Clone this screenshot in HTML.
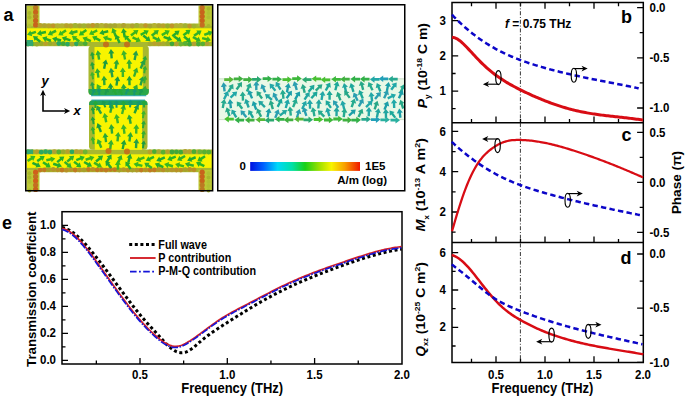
<!DOCTYPE html>
<html><head><meta charset="utf-8"><style>
html,body{margin:0;padding:0;background:#fff;}
svg{display:block;}
</style></head><body>
<svg width="685" height="399" viewBox="0 0 685 399">
<rect width="685" height="399" fill="#fff"/>
<g filter="url(#blurA)">
<rect x="26.5" y="23.5" width="185.50" height="22.70" fill="#a8b82e" rx="0" />
<rect x="26.5" y="149.5" width="185.50" height="22.70" fill="#a8b82e" rx="0" />
<rect x="88.5" y="45.5" width="60.30" height="49.80" fill="#a8b82e" rx="3.5" />
<rect x="89.0" y="100.3" width="58.50" height="49.50" fill="#a8b82e" rx="3.5" />
<rect x="26.5" y="5.5" width="13.00" height="20.50" fill="#bcc834" rx="0" />
<rect x="198.5" y="5.5" width="13.50" height="20.50" fill="#bcc834" rx="0" />
<circle cx="35.6" cy="7.7" r="2.6" fill="#bc7a24"/>
<circle cx="202.2" cy="7.7" r="2.6" fill="#c46e20"/>
<circle cx="29.5" cy="8.7" r="2.0" fill="#c0c838"/>
<circle cx="208.5" cy="8.7" r="2.0" fill="#a8b82c"/>
<circle cx="35.6" cy="12.0" r="2.6" fill="#c8641c"/>
<circle cx="202.2" cy="12.0" r="2.6" fill="#c8641c"/>
<circle cx="29.5" cy="13.0" r="2.0" fill="#a8b82c"/>
<circle cx="208.5" cy="13.0" r="2.0" fill="#b0c030"/>
<circle cx="35.6" cy="16.3" r="2.6" fill="#bc7a24"/>
<circle cx="202.2" cy="16.3" r="2.6" fill="#c8641c"/>
<circle cx="29.5" cy="17.3" r="2.0" fill="#a8b82c"/>
<circle cx="208.5" cy="17.3" r="2.0" fill="#b0c030"/>
<circle cx="35.6" cy="20.6" r="2.6" fill="#c8641c"/>
<circle cx="202.2" cy="20.6" r="2.6" fill="#c8641c"/>
<circle cx="29.5" cy="21.6" r="2.0" fill="#c0c838"/>
<circle cx="208.5" cy="21.6" r="2.0" fill="#c0c838"/>
<circle cx="35.6" cy="24.9" r="2.6" fill="#c8641c"/>
<circle cx="202.2" cy="24.9" r="2.6" fill="#c46e20"/>
<circle cx="29.5" cy="25.9" r="2.0" fill="#b0c030"/>
<circle cx="208.5" cy="25.9" r="2.0" fill="#a8b82c"/>
<rect x="26.5" y="170" width="13.00" height="20.00" fill="#bcc834" rx="0" />
<rect x="198.5" y="170" width="13.50" height="20.00" fill="#bcc834" rx="0" />
<circle cx="35.6" cy="172.2" r="2.6" fill="#d0601a"/>
<circle cx="202.2" cy="172.2" r="2.6" fill="#c8641c"/>
<circle cx="29.5" cy="173.2" r="2.0" fill="#a8b82c"/>
<circle cx="208.5" cy="173.2" r="2.0" fill="#b0c030"/>
<circle cx="35.6" cy="176.5" r="2.6" fill="#c46e20"/>
<circle cx="202.2" cy="176.5" r="2.6" fill="#c8641c"/>
<circle cx="29.5" cy="177.5" r="2.0" fill="#a8b82c"/>
<circle cx="208.5" cy="177.5" r="2.0" fill="#a8b82c"/>
<circle cx="35.6" cy="180.8" r="2.6" fill="#d0601a"/>
<circle cx="202.2" cy="180.8" r="2.6" fill="#c8641c"/>
<circle cx="29.5" cy="181.8" r="2.0" fill="#b0c030"/>
<circle cx="208.5" cy="181.8" r="2.0" fill="#b0c030"/>
<circle cx="35.6" cy="185.1" r="2.6" fill="#c46e20"/>
<circle cx="202.2" cy="185.1" r="2.6" fill="#bc7a24"/>
<circle cx="29.5" cy="186.1" r="2.0" fill="#c0c838"/>
<circle cx="208.5" cy="186.1" r="2.0" fill="#b0c030"/>
<circle cx="35.6" cy="189.4" r="2.6" fill="#c8641c"/>
<circle cx="202.2" cy="189.4" r="2.6" fill="#bc7a24"/>
<circle cx="29.5" cy="190.4" r="2.0" fill="#a8b82c"/>
<circle cx="208.5" cy="190.4" r="2.0" fill="#a8b82c"/>
<rect x="27.0" y="28.3" width="184.50" height="13.60" fill="#f8f400" rx="0" />
<rect x="27.0" y="154.3" width="184.50" height="13.60" fill="#f8f400" rx="0" />
<rect x="94.5" y="47" width="48.30" height="45.00" fill="#f8f400" rx="0" />
<rect x="94.8" y="104" width="47.20" height="45.80" fill="#f8f400" rx="0" />
<circle cx="40.0" cy="25.5" r="2.4" fill="#b8a02c"/>
<circle cx="44.4" cy="25.7" r="2.4" fill="#b0a030"/>
<circle cx="48.8" cy="25.9" r="2.4" fill="#b8a02c"/>
<circle cx="53.2" cy="25.8" r="2.4" fill="#c0942a"/>
<circle cx="57.6" cy="26.0" r="2.4" fill="#b4b032"/>
<circle cx="62.0" cy="25.9" r="2.4" fill="#b4b032"/>
<circle cx="66.4" cy="25.7" r="2.4" fill="#b8a02c"/>
<circle cx="70.8" cy="26.0" r="2.4" fill="#b8a02c"/>
<circle cx="75.2" cy="25.5" r="2.4" fill="#a0b030"/>
<circle cx="79.6" cy="25.8" r="2.4" fill="#a8a430"/>
<circle cx="84.0" cy="26.0" r="2.4" fill="#a0b030"/>
<circle cx="88.4" cy="25.9" r="2.4" fill="#b0a030"/>
<circle cx="92.8" cy="25.5" r="2.4" fill="#c0942a"/>
<circle cx="97.2" cy="25.5" r="2.4" fill="#a8a430"/>
<circle cx="101.6" cy="25.5" r="2.4" fill="#b4b032"/>
<circle cx="106.0" cy="25.7" r="2.4" fill="#b0a030"/>
<circle cx="110.4" cy="26.0" r="2.4" fill="#a8a430"/>
<circle cx="114.8" cy="25.7" r="2.4" fill="#a8a430"/>
<circle cx="119.2" cy="25.9" r="2.4" fill="#b4b032"/>
<circle cx="123.6" cy="25.5" r="2.4" fill="#b0a030"/>
<circle cx="128.0" cy="26.2" r="2.4" fill="#b4b032"/>
<circle cx="132.4" cy="26.0" r="2.4" fill="#b0a030"/>
<circle cx="136.8" cy="25.4" r="2.4" fill="#a0b030"/>
<circle cx="141.2" cy="25.9" r="2.4" fill="#b4b032"/>
<circle cx="145.6" cy="25.6" r="2.4" fill="#c0942a"/>
<circle cx="150.0" cy="26.1" r="2.4" fill="#a8a430"/>
<circle cx="154.4" cy="25.4" r="2.4" fill="#b4b032"/>
<circle cx="158.8" cy="25.7" r="2.4" fill="#b0a030"/>
<circle cx="163.2" cy="25.8" r="2.4" fill="#b8a02c"/>
<circle cx="167.6" cy="26.0" r="2.4" fill="#98ac2c"/>
<circle cx="172.0" cy="26.0" r="2.4" fill="#c0942a"/>
<circle cx="176.4" cy="25.7" r="2.4" fill="#b4b032"/>
<circle cx="180.8" cy="25.5" r="2.4" fill="#b4b032"/>
<circle cx="185.2" cy="25.7" r="2.4" fill="#a0b030"/>
<circle cx="189.6" cy="26.1" r="2.4" fill="#c0942a"/>
<circle cx="194.0" cy="26.1" r="2.4" fill="#a0b030"/>
<circle cx="28.0" cy="44.0" r="2.4" fill="#40a838"/>
<circle cx="32.4" cy="43.9" r="2.4" fill="#6cb430"/>
<circle cx="36.8" cy="44.2" r="2.4" fill="#98ac2c"/>
<circle cx="41.2" cy="43.5" r="2.4" fill="#98ac2c"/>
<circle cx="45.6" cy="43.6" r="2.4" fill="#b8a02c"/>
<circle cx="50.0" cy="43.4" r="2.4" fill="#98ac2c"/>
<circle cx="54.4" cy="43.6" r="2.4" fill="#a8aa2e"/>
<circle cx="58.8" cy="43.5" r="2.4" fill="#2aa860"/>
<circle cx="63.2" cy="43.7" r="2.4" fill="#40a838"/>
<circle cx="67.6" cy="44.2" r="2.4" fill="#2aa860"/>
<circle cx="72.0" cy="44.2" r="2.4" fill="#a8aa2e"/>
<circle cx="76.4" cy="43.8" r="2.4" fill="#2aa860"/>
<circle cx="80.8" cy="43.7" r="2.4" fill="#6cb430"/>
<circle cx="85.2" cy="43.7" r="2.4" fill="#4aac34"/>
<circle cx="150.0" cy="43.9" r="2.4" fill="#a8aa2e"/>
<circle cx="154.4" cy="43.6" r="2.4" fill="#b8a02c"/>
<circle cx="158.8" cy="43.8" r="2.4" fill="#b0a030"/>
<circle cx="163.2" cy="43.7" r="2.4" fill="#a8aa2e"/>
<circle cx="167.6" cy="43.5" r="2.4" fill="#98ac2c"/>
<circle cx="172.0" cy="43.8" r="2.4" fill="#40a838"/>
<circle cx="176.4" cy="43.9" r="2.4" fill="#b0a030"/>
<circle cx="180.8" cy="44.1" r="2.4" fill="#6cb430"/>
<circle cx="185.2" cy="43.5" r="2.4" fill="#58b030"/>
<circle cx="189.6" cy="44.2" r="2.4" fill="#40a838"/>
<circle cx="194.0" cy="43.8" r="2.4" fill="#b0a030"/>
<circle cx="198.4" cy="44.1" r="2.4" fill="#4aac34"/>
<circle cx="202.8" cy="43.8" r="2.4" fill="#58b030"/>
<circle cx="207.2" cy="43.5" r="2.4" fill="#b0a030"/>
<circle cx="28.0" cy="152.0" r="2.4" fill="#58b030"/>
<circle cx="32.4" cy="151.8" r="2.4" fill="#98ac2c"/>
<circle cx="36.8" cy="151.8" r="2.4" fill="#b8a02c"/>
<circle cx="41.2" cy="152.2" r="2.4" fill="#2aa860"/>
<circle cx="45.6" cy="151.7" r="2.4" fill="#2aa860"/>
<circle cx="50.0" cy="152.1" r="2.4" fill="#2aa860"/>
<circle cx="54.4" cy="151.6" r="2.4" fill="#b0a030"/>
<circle cx="58.8" cy="152.0" r="2.4" fill="#58b030"/>
<circle cx="63.2" cy="151.8" r="2.4" fill="#98ac2c"/>
<circle cx="67.6" cy="151.7" r="2.4" fill="#b8a02c"/>
<circle cx="72.0" cy="151.8" r="2.4" fill="#2aa860"/>
<circle cx="76.4" cy="151.7" r="2.4" fill="#b8a02c"/>
<circle cx="80.8" cy="151.9" r="2.4" fill="#b8a02c"/>
<circle cx="85.2" cy="152.0" r="2.4" fill="#6cb430"/>
<circle cx="150.0" cy="152.0" r="2.4" fill="#b8a02c"/>
<circle cx="154.4" cy="151.6" r="2.4" fill="#4aac34"/>
<circle cx="158.8" cy="151.7" r="2.4" fill="#a8aa2e"/>
<circle cx="163.2" cy="152.2" r="2.4" fill="#58b030"/>
<circle cx="167.6" cy="151.8" r="2.4" fill="#b8a02c"/>
<circle cx="172.0" cy="152.0" r="2.4" fill="#40a838"/>
<circle cx="176.4" cy="151.8" r="2.4" fill="#40a838"/>
<circle cx="180.8" cy="152.2" r="2.4" fill="#40a838"/>
<circle cx="185.2" cy="151.5" r="2.4" fill="#b0a030"/>
<circle cx="189.6" cy="151.6" r="2.4" fill="#b8a02c"/>
<circle cx="194.0" cy="151.7" r="2.4" fill="#4aac34"/>
<circle cx="198.4" cy="151.9" r="2.4" fill="#a8aa2e"/>
<circle cx="200.0" cy="151.8" r="2.4" fill="#6cb430"/>
<circle cx="204.4" cy="152.0" r="2.4" fill="#58b030"/>
<circle cx="208.8" cy="152.1" r="2.4" fill="#58b030"/>
<circle cx="40.0" cy="170.1" r="2.4" fill="#c07a24"/>
<circle cx="44.4" cy="169.8" r="2.4" fill="#c07a24"/>
<circle cx="48.8" cy="169.7" r="2.4" fill="#a8a02a"/>
<circle cx="53.2" cy="169.5" r="2.4" fill="#b4962a"/>
<circle cx="57.6" cy="169.8" r="2.4" fill="#b89028"/>
<circle cx="62.0" cy="170.0" r="2.4" fill="#c07a24"/>
<circle cx="66.4" cy="170.2" r="2.4" fill="#b89028"/>
<circle cx="70.8" cy="169.5" r="2.4" fill="#b4962a"/>
<circle cx="75.2" cy="170.0" r="2.4" fill="#c07a24"/>
<circle cx="79.6" cy="169.9" r="2.4" fill="#b4962a"/>
<circle cx="84.0" cy="169.9" r="2.4" fill="#a8a02a"/>
<circle cx="88.4" cy="169.5" r="2.4" fill="#c07a24"/>
<circle cx="92.8" cy="169.4" r="2.4" fill="#b89028"/>
<circle cx="97.2" cy="169.8" r="2.4" fill="#c07a24"/>
<circle cx="101.6" cy="169.7" r="2.4" fill="#c07a24"/>
<circle cx="106.0" cy="170.1" r="2.4" fill="#c07a24"/>
<circle cx="110.4" cy="169.4" r="2.4" fill="#c07a24"/>
<circle cx="114.8" cy="169.6" r="2.4" fill="#c07a24"/>
<circle cx="119.2" cy="170.0" r="2.4" fill="#a8a02a"/>
<circle cx="123.6" cy="169.6" r="2.4" fill="#b4962a"/>
<circle cx="128.0" cy="170.1" r="2.4" fill="#b89028"/>
<circle cx="132.4" cy="170.1" r="2.4" fill="#a8a02a"/>
<circle cx="136.8" cy="170.1" r="2.4" fill="#b4962a"/>
<circle cx="141.2" cy="170.1" r="2.4" fill="#c07a24"/>
<circle cx="145.6" cy="169.8" r="2.4" fill="#b89028"/>
<circle cx="150.0" cy="170.1" r="2.4" fill="#c07a24"/>
<circle cx="154.4" cy="169.9" r="2.4" fill="#c07a24"/>
<circle cx="158.8" cy="169.5" r="2.4" fill="#b4962a"/>
<circle cx="163.2" cy="169.9" r="2.4" fill="#b89028"/>
<circle cx="167.6" cy="169.8" r="2.4" fill="#a8a02a"/>
<circle cx="172.0" cy="169.9" r="2.4" fill="#b4962a"/>
<circle cx="176.4" cy="170.0" r="2.4" fill="#b89028"/>
<circle cx="180.8" cy="170.1" r="2.4" fill="#b89028"/>
<circle cx="185.2" cy="169.6" r="2.4" fill="#a8a02a"/>
<circle cx="189.6" cy="169.4" r="2.4" fill="#b89028"/>
<circle cx="194.0" cy="169.8" r="2.4" fill="#b89028"/>
<rect x="26.5" y="40" width="6.50" height="6.00" fill="#30a870" rx="0" />
<rect x="26.5" y="149.5" width="6.50" height="4.50" fill="#30a870" rx="0" />
<path d="M27.1,34.7 L30.4,30.5 L30.9,32.2 L35.5,30.7 L36.3,33.0 L31.7,34.5 L32.3,36.2Z" fill="#30b02c"/>
<path d="M36.9,33.9 L40.6,30.0 L41.0,31.7 L45.7,30.7 L46.2,33.2 L41.5,34.2 L41.9,35.9Z" fill="#26ac2a"/>
<path d="M47.8,34.9 L50.4,30.3 L51.2,31.8 L55.5,29.6 L56.6,31.9 L52.3,34.0 L53.1,35.6Z" fill="#30b02c"/>
<path d="M58.3,35.3 L60.4,30.4 L61.3,31.9 L65.3,29.3 L66.7,31.4 L62.7,34.0 L63.6,35.4Z" fill="#38b820"/>
<path d="M68.6,33.6 L72.1,29.6 L72.5,31.3 L77.2,30.1 L77.8,32.5 L73.2,33.7 L73.6,35.4Z" fill="#30b02c"/>
<path d="M78.9,35.5 L80.7,30.4 L81.7,31.8 L85.6,29.0 L87.1,31.0 L83.2,33.8 L84.3,35.2Z" fill="#2cb424"/>
<path d="M89.0,34.6 L91.5,29.9 L92.4,31.4 L96.6,29.2 L97.8,31.4 L93.5,33.6 L94.3,35.2Z" fill="#38b820"/>
<path d="M99.3,33.5 L102.8,29.5 L103.3,31.2 L107.9,30.0 L108.5,32.5 L103.9,33.6 L104.3,35.3Z" fill="#22a830"/>
<path d="M112.4,28.1 L116.9,31.0 L115.3,31.7 L117.1,36.1 L114.8,37.1 L113.0,32.7 L111.4,33.3Z" fill="#30b02c"/>
<path d="M123.2,28.2 L126.9,32.1 L125.2,32.4 L125.9,37.1 L123.5,37.5 L122.7,32.8 L121.0,33.1Z" fill="#22a830"/>
<path d="M138.4,30.0 L136.6,35.1 L135.6,33.6 L131.7,36.4 L130.2,34.4 L134.1,31.6 L133.1,30.2Z" fill="#3cb41e"/>
<path d="M148.8,30.5 L146.3,35.2 L145.5,33.6 L141.3,35.9 L140.1,33.7 L144.3,31.4 L143.5,29.9Z" fill="#2cb424"/>
<path d="M158.8,29.9 L157.3,35.1 L156.2,33.7 L152.5,36.8 L150.9,34.8 L154.6,31.8 L153.5,30.4Z" fill="#30b02c"/>
<path d="M169.8,30.6 L167.4,35.4 L166.6,33.8 L162.4,36.2 L161.2,34.0 L165.4,31.6 L164.5,30.1Z" fill="#38b820"/>
<path d="M179.6,30.5 L178.0,35.6 L176.9,34.2 L173.2,37.2 L171.6,35.2 L175.4,32.3 L174.3,30.9Z" fill="#26ac2a"/>
<path d="M190.6,29.7 L188.9,34.8 L187.9,33.4 L184.1,36.3 L182.6,34.3 L186.4,31.4 L185.3,30.0Z" fill="#2cb424"/>
<path d="M201.6,30.5 L199.7,35.5 L198.7,34.0 L194.8,36.8 L193.3,34.7 L197.3,32.0 L196.3,30.5Z" fill="#30b02c"/>
<path d="M212.9,31.7 L209.8,36.1 L209.2,34.4 L204.7,36.1 L203.8,33.8 L208.3,32.1 L207.7,30.5Z" fill="#30b02c"/>
<path d="M33.0,36.1 L38.3,36.4 L37.2,37.8 L41.0,40.7 L39.5,42.7 L35.7,39.8 L34.6,41.1Z" fill="#22a830"/>
<path d="M42.2,37.6 L47.3,36.3 L46.8,37.9 L51.3,39.5 L50.4,41.9 L45.9,40.3 L45.4,41.9Z" fill="#26ac2a"/>
<path d="M52.1,38.2 L57.1,36.4 L56.7,38.1 L61.4,39.2 L60.8,41.6 L56.1,40.5 L55.7,42.2Z" fill="#22a830"/>
<path d="M61.8,37.4 L66.9,36.0 L66.4,37.7 L70.9,39.2 L70.1,41.6 L65.6,40.1 L65.0,41.7Z" fill="#26ac2a"/>
<path d="M71.9,36.0 L77.3,36.2 L76.2,37.6 L80.1,40.5 L78.6,42.5 L74.8,39.6 L73.7,41.1Z" fill="#38b820"/>
<path d="M82.4,37.5 L87.7,36.5 L87.0,38.1 L91.4,40.0 L90.4,42.3 L86.0,40.4 L85.3,42.0Z" fill="#3cb41e"/>
<path d="M92.1,36.4 L97.4,35.7 L96.6,37.3 L100.9,39.4 L99.8,41.7 L95.5,39.5 L94.7,41.1Z" fill="#2cb424"/>
<path d="M102.9,36.9 L108.0,35.5 L107.4,37.2 L112.0,38.7 L111.1,41.1 L106.6,39.5 L106.1,41.2Z" fill="#38b820"/>
<path d="M115.5,34.6 L120.2,37.2 L118.6,38.0 L120.8,42.3 L118.6,43.4 L116.4,39.1 L114.8,39.9Z" fill="#22a830"/>
<path d="M124.1,35.2 L129.3,36.3 L128.1,37.5 L131.4,40.9 L129.6,42.7 L126.3,39.2 L125.0,40.5Z" fill="#2cb424"/>
<path d="M140.9,41.4 L135.6,42.2 L136.3,40.6 L132.0,38.5 L133.1,36.2 L137.4,38.3 L138.2,36.8Z" fill="#3cb41e"/>
<path d="M150.5,41.2 L145.2,40.8 L146.3,39.4 L142.5,36.5 L144.0,34.5 L147.8,37.5 L148.9,36.1Z" fill="#22a830"/>
<path d="M161.1,41.2 L155.8,42.0 L156.6,40.4 L152.3,38.3 L153.4,36.1 L157.7,38.2 L158.4,36.6Z" fill="#30b02c"/>
<path d="M172.2,40.1 L167.1,41.3 L167.7,39.7 L163.2,38.0 L164.0,35.7 L168.5,37.3 L169.1,35.7Z" fill="#26ac2a"/>
<path d="M181.6,41.7 L176.3,41.6 L177.3,40.2 L173.4,37.4 L174.8,35.4 L178.7,38.1 L179.8,36.7Z" fill="#22a830"/>
<path d="M191.0,42.3 L185.7,41.8 L186.8,40.5 L183.2,37.4 L184.8,35.5 L188.4,38.5 L189.6,37.2Z" fill="#26ac2a"/>
<path d="M200.9,41.5 L195.6,42.0 L196.5,40.4 L192.3,38.1 L193.5,35.9 L197.7,38.3 L198.6,36.7Z" fill="#30b02c"/>
<path d="M211.0,40.3 L206.0,42.2 L206.5,40.5 L201.8,39.3 L202.4,36.9 L207.1,38.0 L207.5,36.3Z" fill="#3cb41e"/>
<path d="M35.4,156.1 L33.2,160.9 L32.3,159.5 L28.3,162.0 L26.9,159.9 L31.0,157.3 L30.1,155.8Z" fill="#38b820"/>
<path d="M44.7,155.9 L42.8,160.9 L41.8,159.4 L37.9,162.2 L36.5,160.1 L40.4,157.4 L39.4,156.0Z" fill="#2cb424"/>
<path d="M55.3,158.4 L51.6,162.3 L51.2,160.5 L46.6,161.6 L46.0,159.1 L50.7,158.1 L50.3,156.4Z" fill="#3cb41e"/>
<path d="M64.3,156.4 L62.7,161.5 L61.6,160.1 L57.9,163.1 L56.4,161.2 L60.1,158.2 L59.0,156.8Z" fill="#26ac2a"/>
<path d="M74.2,155.7 L72.8,160.8 L71.6,159.5 L68.0,162.6 L66.4,160.7 L70.0,157.6 L68.9,156.2Z" fill="#30b02c"/>
<path d="M84.8,156.8 L81.8,161.2 L81.2,159.6 L76.7,161.3 L75.8,159.0 L80.2,157.3 L79.6,155.6Z" fill="#2cb424"/>
<path d="M94.5,157.1 L91.1,161.2 L90.6,159.5 L86.0,160.9 L85.3,158.5 L89.9,157.1 L89.4,155.4Z" fill="#3cb41e"/>
<path d="M103.1,155.6 L101.6,160.8 L100.5,159.4 L96.8,162.5 L95.2,160.5 L98.9,157.5 L97.8,156.1Z" fill="#26ac2a"/>
<path d="M111.5,154.5 L111.7,159.8 L110.2,158.9 L107.7,162.9 L105.6,161.6 L108.1,157.6 L106.6,156.6Z" fill="#22a830"/>
<path d="M121.6,154.9 L122.5,160.1 L120.9,159.4 L119.0,163.8 L116.7,162.7 L118.7,158.4 L117.1,157.7Z" fill="#30b02c"/>
<path d="M130.4,153.8 L132.3,158.8 L130.6,158.4 L129.5,163.0 L127.1,162.4 L128.2,157.8 L126.5,157.4Z" fill="#22a830"/>
<path d="M135.9,160.8 L138.9,156.4 L139.6,158.0 L144.0,156.2 L144.9,158.5 L140.5,160.3 L141.2,161.9Z" fill="#3cb41e"/>
<path d="M145.7,160.8 L148.4,156.2 L149.1,157.8 L153.5,155.7 L154.5,158.0 L150.2,160.0 L150.9,161.6Z" fill="#2cb424"/>
<path d="M156.3,161.1 L159.2,156.6 L159.9,158.2 L164.3,156.3 L165.3,158.6 L160.9,160.5 L161.6,162.1Z" fill="#22a830"/>
<path d="M167.2,160.0 L170.2,155.6 L170.8,157.2 L175.3,155.4 L176.2,157.8 L171.8,159.5 L172.4,161.2Z" fill="#2cb424"/>
<path d="M177.1,160.6 L179.4,155.8 L180.3,157.3 L184.5,155.0 L185.7,157.1 L181.5,159.5 L182.4,161.0Z" fill="#30b02c"/>
<path d="M187.1,160.7 L190.1,156.2 L190.7,157.9 L195.2,156.1 L196.1,158.4 L191.7,160.2 L192.3,161.8Z" fill="#22a830"/>
<path d="M197.3,161.2 L199.4,156.3 L200.3,157.8 L204.4,155.2 L205.7,157.3 L201.7,159.9 L202.6,161.4Z" fill="#2cb424"/>
<path d="M40.7,166.8 L35.5,167.6 L36.2,166.0 L31.9,164.0 L33.0,161.7 L37.3,163.8 L38.1,162.2Z" fill="#22a830"/>
<path d="M50.7,167.3 L45.4,167.4 L46.3,165.9 L42.3,163.3 L43.7,161.2 L47.7,163.8 L48.6,162.3Z" fill="#2cb424"/>
<path d="M62.0,166.5 L56.8,168.0 L57.4,166.4 L52.8,164.9 L53.6,162.5 L58.2,164.0 L58.7,162.3Z" fill="#26ac2a"/>
<path d="M71.7,167.7 L66.4,167.2 L67.5,165.9 L63.8,162.8 L65.4,160.9 L69.1,163.9 L70.2,162.6Z" fill="#30b02c"/>
<path d="M81.3,167.3 L76.0,167.0 L77.1,165.6 L73.3,162.7 L74.8,160.8 L78.6,163.7 L79.7,162.3Z" fill="#2cb424"/>
<path d="M92.1,166.6 L86.8,167.0 L87.6,165.5 L83.5,163.1 L84.7,160.9 L88.9,163.3 L89.7,161.8Z" fill="#26ac2a"/>
<path d="M102.0,167.3 L96.7,167.7 L97.6,166.2 L93.4,163.8 L94.7,161.6 L98.8,164.0 L99.7,162.5Z" fill="#3cb41e"/>
<path d="M105.4,161.0 L110.5,162.4 L109.2,163.6 L112.3,167.2 L110.3,168.8 L107.3,165.2 L105.9,166.3Z" fill="#22a830"/>
<path d="M117.8,160.5 L120.9,164.8 L119.1,164.8 L119.2,169.6 L116.7,169.7 L116.6,164.9 L114.9,164.9Z" fill="#38b820"/>
<path d="M125.4,161.5 L130.4,163.4 L128.9,164.4 L131.7,168.3 L129.6,169.8 L126.9,165.8 L125.5,166.8Z" fill="#26ac2a"/>
<path d="M133.5,163.7 L138.5,161.8 L138.1,163.5 L142.7,164.7 L142.1,167.1 L137.5,165.9 L137.0,167.6Z" fill="#38b820"/>
<path d="M144.3,162.7 L149.6,162.8 L148.6,164.2 L152.6,167.0 L151.1,169.0 L147.2,166.3 L146.2,167.7Z" fill="#30b02c"/>
<path d="M154.8,163.5 L160.0,162.5 L159.4,164.1 L163.8,165.9 L162.8,168.2 L158.4,166.4 L157.7,168.0Z" fill="#26ac2a"/>
<path d="M164.1,164.0 L169.1,162.1 L168.7,163.8 L173.3,165.0 L172.7,167.4 L168.1,166.3 L167.7,168.0Z" fill="#38b820"/>
<path d="M175.1,164.0 L180.1,162.2 L179.6,163.9 L184.3,165.2 L183.6,167.6 L179.0,166.3 L178.5,168.0Z" fill="#3cb41e"/>
<path d="M184.9,163.5 L189.9,161.7 L189.5,163.4 L194.1,164.6 L193.5,167.0 L188.9,165.8 L188.4,167.5Z" fill="#30b02c"/>
<path d="M196.0,162.3 L201.3,161.4 L200.6,163.0 L204.9,165.1 L203.8,167.3 L199.5,165.3 L198.7,166.9Z" fill="#2cb424"/>
<path d="M97.6,50.2 L101.3,54.2 L99.5,54.5 L100.3,59.4 L97.9,59.7 L97.1,54.9 L95.4,55.2Z" fill="#34ae30"/>
<path d="M110.9,49.0 L114.3,53.2 L112.5,53.4 L112.9,58.3 L110.5,58.5 L110.1,53.6 L108.3,53.8Z" fill="#1f9c40"/>
<path d="M123.3,50.2 L127.1,54.1 L125.3,54.4 L126.2,59.3 L123.9,59.7 L123.0,54.9 L121.2,55.2Z" fill="#3cb42c"/>
<path d="M136.4,50.6 L138.5,55.7 L136.7,55.3 L135.8,60.2 L133.4,59.7 L134.4,54.9 L132.6,54.6Z" fill="#26a046"/>
<path d="M106.1,59.4 L108.1,64.5 L106.3,64.1 L105.3,69.0 L102.9,68.5 L104.0,63.6 L102.2,63.2Z" fill="#1f9c40"/>
<path d="M117.1,59.5 L119.3,64.5 L117.6,64.2 L116.8,69.1 L114.4,68.7 L115.2,63.8 L113.4,63.5Z" fill="#2aa838"/>
<path d="M129.1,59.2 L132.3,63.7 L130.5,63.7 L130.6,68.6 L128.2,68.7 L128.1,63.8 L126.3,63.8Z" fill="#34ae30"/>
<path d="M144.4,59.8 L145.4,65.2 L143.7,64.5 L141.8,69.0 L139.6,68.1 L141.5,63.5 L139.9,62.8Z" fill="#26a046"/>
<path d="M97.1,68.2 L100.7,72.3 L98.9,72.5 L99.6,77.4 L97.3,77.7 L96.6,72.9 L94.8,73.1Z" fill="#34ae30"/>
<path d="M110.8,67.8 L114.5,71.8 L112.8,72.1 L113.6,76.9 L111.3,77.4 L110.4,72.5 L108.6,72.8Z" fill="#26a046"/>
<path d="M122.7,67.4 L125.8,71.9 L124.0,72.0 L124.1,76.9 L121.7,76.9 L121.6,72.0 L119.8,72.0Z" fill="#3cb42c"/>
<path d="M137.1,67.6 L138.4,72.9 L136.7,72.3 L135.1,77.0 L132.9,76.2 L134.5,71.5 L132.8,70.9Z" fill="#34ae30"/>
<path d="M103.9,75.7 L107.2,80.1 L105.4,80.2 L105.6,85.1 L103.2,85.3 L103.0,80.3 L101.2,80.4Z" fill="#2aa838"/>
<path d="M117.9,76.2 L120.2,81.2 L118.4,80.9 L117.6,85.8 L115.3,85.4 L116.0,80.6 L114.2,80.3Z" fill="#1f9c40"/>
<path d="M129.3,75.8 L132.4,80.2 L130.6,80.3 L130.7,85.2 L128.3,85.3 L128.2,80.3 L126.4,80.4Z" fill="#22a23a"/>
<path d="M143.1,76.2 L144.7,81.4 L143.0,80.9 L141.6,85.7 L139.3,85.0 L140.7,80.3 L138.9,79.8Z" fill="#26a046"/>
<path d="M96.9,84.1 L101.7,86.7 L100.1,87.6 L102.4,91.9 L100.3,93.1 L97.9,88.7 L96.4,89.6Z" fill="#3cb42c"/>
<path d="M110.4,83.1 L113.6,87.4 L111.9,87.5 L112.2,92.5 L109.8,92.6 L109.5,87.7 L107.7,87.8Z" fill="#1f9c40"/>
<path d="M123.4,83.8 L126.7,88.1 L124.9,88.3 L125.2,93.2 L122.8,93.4 L122.5,88.4 L120.7,88.6Z" fill="#2aa838"/>
<path d="M137.3,84.5 L138.0,89.9 L136.4,89.1 L134.2,93.5 L132.1,92.5 L134.2,88.0 L132.6,87.3Z" fill="#34ae30"/>
<path d="M91.9,51.8 L94.9,55.0 L93.5,55.2 L94.0,59.1 L92.1,59.4 L91.5,55.5 L90.0,55.7Z" fill="#22a23a"/>
<path d="M145.4,55.8 L147.3,59.7 L145.8,59.5 L145.2,63.4 L143.3,63.1 L143.8,59.2 L142.4,59.0Z" fill="#2aa838"/>
<path d="M91.9,61.8 L94.9,65.0 L93.5,65.2 L94.0,69.1 L92.1,69.4 L91.5,65.5 L90.0,65.7Z" fill="#22a23a"/>
<path d="M145.4,65.8 L147.3,69.7 L145.8,69.5 L145.2,73.4 L143.3,73.1 L143.8,69.2 L142.4,69.0Z" fill="#34ae30"/>
<path d="M91.9,71.8 L94.9,75.0 L93.5,75.2 L94.0,79.1 L92.1,79.4 L91.5,75.5 L90.0,75.7Z" fill="#3cb42c"/>
<path d="M145.4,75.8 L147.3,79.7 L145.8,79.5 L145.2,83.4 L143.3,83.1 L143.8,79.2 L142.4,79.0Z" fill="#34ae30"/>
<path d="M91.9,81.8 L94.9,85.0 L93.5,85.2 L94.0,89.1 L92.1,89.4 L91.5,85.5 L90.0,85.7Z" fill="#26a046"/>
<path d="M145.4,85.8 L147.3,89.7 L145.8,89.5 L145.2,93.4 L143.3,93.1 L143.8,89.2 L142.4,89.0Z" fill="#34ae30"/>
<path d="M96.5,105.3 L101.4,107.9 L99.8,108.7 L102.2,113.1 L100.1,114.2 L97.7,109.9 L96.1,110.8Z" fill="#26a046"/>
<path d="M112.5,103.6 L114.3,108.7 L112.6,108.3 L111.4,113.1 L109.1,112.5 L110.2,107.7 L108.5,107.3Z" fill="#2aa838"/>
<path d="M124.3,104.7 L126.1,109.8 L124.4,109.4 L123.2,114.2 L120.9,113.7 L122.1,108.9 L120.3,108.4Z" fill="#3cb42c"/>
<path d="M138.1,104.5 L139.1,109.8 L137.5,109.2 L135.6,113.7 L133.4,112.8 L135.2,108.3 L133.6,107.6Z" fill="#22a23a"/>
<path d="M104.4,112.9 L108.2,116.8 L106.5,117.2 L107.4,122.0 L105.0,122.5 L104.1,117.6 L102.3,117.9Z" fill="#3cb42c"/>
<path d="M116.1,113.9 L119.9,117.8 L118.2,118.1 L119.1,123.0 L116.7,123.4 L115.8,118.6 L114.0,118.9Z" fill="#3cb42c"/>
<path d="M128.8,114.4 L132.7,118.2 L130.9,118.6 L131.9,123.4 L129.5,123.9 L128.5,119.1 L126.8,119.4Z" fill="#2aa838"/>
<path d="M97.4,123.1 L101.9,126.2 L100.2,126.9 L102.1,131.5 L99.8,132.4 L98.0,127.8 L96.3,128.5Z" fill="#1f9c40"/>
<path d="M111.1,124.1 L114.6,128.3 L112.8,128.5 L113.3,133.4 L110.9,133.7 L110.4,128.8 L108.6,129.0Z" fill="#2aa838"/>
<path d="M123.2,124.3 L126.8,128.5 L125.0,128.7 L125.7,133.6 L123.3,133.9 L122.7,129.0 L120.9,129.2Z" fill="#3cb42c"/>
<path d="M136.5,124.2 L139.3,128.8 L137.5,128.8 L137.4,133.7 L135.0,133.6 L135.1,128.7 L133.3,128.6Z" fill="#3cb42c"/>
<path d="M104.9,132.8 L108.4,136.9 L106.6,137.1 L107.2,142.1 L104.9,142.3 L104.3,137.4 L102.5,137.7Z" fill="#2aa838"/>
<path d="M118.4,131.9 L120.9,136.7 L119.2,136.5 L118.7,141.4 L116.3,141.2 L116.8,136.3 L115.0,136.1Z" fill="#34ae30"/>
<path d="M130.8,132.1 L133.1,137.1 L131.3,136.8 L130.6,141.7 L128.2,141.3 L128.9,136.4 L127.1,136.2Z" fill="#2aa838"/>
<path d="M97.6,138.9 L102.1,142.0 L100.5,142.7 L102.4,147.2 L100.2,148.2 L98.2,143.6 L96.6,144.3Z" fill="#34ae30"/>
<path d="M111.4,139.8 L113.8,144.7 L112.0,144.5 L111.4,149.4 L109.0,149.1 L109.6,144.2 L107.8,143.9Z" fill="#34ae30"/>
<path d="M124.5,139.8 L126.6,144.9 L124.8,144.5 L123.8,149.3 L121.5,148.9 L122.5,144.0 L120.7,143.7Z" fill="#22a23a"/>
<path d="M136.7,138.6 L139.3,143.4 L137.5,143.2 L137.2,148.2 L134.8,148.0 L135.1,143.1 L133.3,142.9Z" fill="#26a046"/>
<path d="M92.4,106.6 L95.4,109.8 L94.0,110.0 L94.5,113.9 L92.6,114.2 L92.0,110.3 L90.5,110.5Z" fill="#22a23a"/>
<path d="M144.1,110.6 L146.0,114.5 L144.5,114.3 L143.9,118.2 L142.0,117.9 L142.5,114.0 L141.1,113.8Z" fill="#3cb42c"/>
<path d="M92.4,116.6 L95.4,119.8 L94.0,120.0 L94.5,123.9 L92.6,124.2 L92.0,120.3 L90.5,120.5Z" fill="#22a23a"/>
<path d="M144.1,120.6 L146.0,124.5 L144.5,124.3 L143.9,128.2 L142.0,127.9 L142.5,124.0 L141.1,123.8Z" fill="#2aa838"/>
<path d="M92.4,126.6 L95.4,129.8 L94.0,130.0 L94.5,133.9 L92.6,134.2 L92.0,130.3 L90.5,130.5Z" fill="#34ae30"/>
<path d="M144.1,130.6 L146.0,134.5 L144.5,134.3 L143.9,138.2 L142.0,137.9 L142.5,134.0 L141.1,133.8Z" fill="#34ae30"/>
<path d="M92.4,136.6 L95.4,139.8 L94.0,140.0 L94.5,143.9 L92.6,144.2 L92.0,140.3 L90.5,140.5Z" fill="#3cb42c"/>
<path d="M144.1,140.6 L146.0,144.5 L144.5,144.3 L143.9,148.2 L142.0,147.9 L142.5,144.0 L141.1,143.8Z" fill="#1f9c40"/>
<path d="M88.5,89 V91.5 Q88.5,95.3 93,95.3 H144.3 Q148.8,95.3 148.8,91.5 V89 Z" fill="#2aa84a"/>
<path d="M89,105 V104.5 Q89,100.3 93.5,100.3 H143 Q147.5,100.3 147.5,104.5 V105 Z" fill="#22a45a"/>
<path d="M94.9,88.8 L95.9,93.0 L94.4,92.3 L92.9,95.6 L91.1,94.8 L92.6,91.5 L91.2,90.8Z" fill="#189870"/>
<path d="M95.5,100.4 L98.1,104.1 L96.4,104.0 L96.3,107.9 L94.3,107.9 L94.4,104.0 L92.7,103.9Z" fill="#26a838"/>
<path d="M98.6,88.2 L101.6,91.2 L100.0,91.4 L100.5,95.0 L98.5,95.3 L98.1,91.6 L96.5,91.8Z" fill="#189870"/>
<path d="M102.5,100.5 L106.4,102.8 L104.8,103.4 L106.3,107.0 L104.5,107.8 L103.0,104.2 L101.4,104.8Z" fill="#1c9a50"/>
<path d="M108.1,88.2 L109.0,92.4 L107.5,91.7 L105.9,94.9 L104.1,94.1 L105.7,90.8 L104.3,90.1Z" fill="#1c9a50"/>
<path d="M109.7,100.5 L112.8,103.8 L111.1,104.0 L111.6,107.9 L109.6,108.1 L109.1,104.2 L107.4,104.4Z" fill="#189870"/>
<path d="M113.1,88.3 L116.9,90.2 L115.5,90.9 L117.1,94.1 L115.3,95.0 L113.7,91.7 L112.2,92.4Z" fill="#26a838"/>
<path d="M116.2,100.3 L119.1,103.7 L117.4,103.8 L117.6,107.7 L115.6,107.8 L115.4,103.9 L113.7,104.0Z" fill="#189870"/>
<path d="M119.1,88.8 L123.0,90.6 L121.6,91.3 L123.2,94.6 L121.4,95.5 L119.8,92.2 L118.3,92.9Z" fill="#26a838"/>
<path d="M123.1,100.4 L126.2,103.7 L124.5,103.9 L124.8,107.8 L122.9,108.0 L122.5,104.1 L120.8,104.2Z" fill="#26a838"/>
<path d="M128.5,87.9 L129.5,92.0 L128.0,91.3 L126.6,94.7 L124.7,93.9 L126.2,90.5 L124.8,89.9Z" fill="#189870"/>
<path d="M130.8,99.8 L133.1,103.7 L131.4,103.5 L131.0,107.4 L129.0,107.2 L129.4,103.3 L127.7,103.1Z" fill="#189870"/>
<path d="M135.0,88.5 L137.1,92.1 L135.6,91.9 L135.1,95.6 L133.1,95.3 L133.6,91.7 L132.0,91.5Z" fill="#189870"/>
<path d="M140.0,100.8 L141.0,105.2 L139.5,104.5 L137.9,108.0 L136.0,107.2 L137.6,103.6 L136.1,102.9Z" fill="#189870"/>
<path d="M142.4,88.6 L143.4,92.7 L142.0,92.0 L140.5,95.4 L138.7,94.6 L140.1,91.2 L138.7,90.6Z" fill="#1c9a50"/>
<path d="M144.0,100.0 L146.7,103.5 L145.0,103.6 L145.1,107.5 L143.1,107.5 L143.0,103.6 L141.3,103.7Z" fill="#26a838"/>
<path d="M91,95.6 H146.3" stroke="#18a0a0" stroke-width="1.2" opacity="0.8"/>
<path d="M91.5,100.1 H145" stroke="#18a0a8" stroke-width="1.2" opacity="0.8"/>
<circle cx="106" cy="44.5" r="3" fill="#c4661c" fill-opacity="0.85"/>
<circle cx="127" cy="44.5" r="3" fill="#c4661c" fill-opacity="0.85"/>
<circle cx="108.5" cy="151" r="3" fill="#c4661c" fill-opacity="0.85"/>
<circle cx="127" cy="151.5" r="3" fill="#c4661c" fill-opacity="0.85"/>
</g>
<rect x="25.75" y="4.75" width="186.9" height="186" fill="none" stroke="#000" stroke-width="1.5"/>
<path d="M43,111 V93 M42.2,111 H67" stroke="#000" stroke-width="1.6" fill="none"/>
<path d="M43,89.8 l-2.9,6.2 l2.9,-1.8 l2.9,1.8 Z" fill="#000"/>
<path d="M70.2,111 l-6.2,-2.9 l1.8,2.9 l-1.8,2.9 Z" fill="#000"/>
<text x="45" y="84.6" font-family="Liberation Sans" font-weight="bold" font-style="italic" font-size="13" text-anchor="middle">y</text>
<text x="77" y="114.8" font-family="Liberation Sans" font-weight="bold" font-style="italic" font-size="13" text-anchor="middle">x</text>
<g filter="url(#blurA)">
<rect x="219" y="78.8" width="185" height="40.8" fill="#e9f8e6"/>
<path d="M219,78.8 H404 M219,119.6 H404" stroke="#c0d8bc" stroke-width="0.8"/>
<path d="M223.4,82.3 L227.1,86.3 L225.2,86.6 L225.8,91.3 L223.4,91.6 L222.8,86.9 L220.9,87.1Z" fill="#2a9fb0"/>
<path d="M233.2,84.0 L233.6,89.4 L231.9,88.4 L229.4,92.5 L227.4,91.2 L229.9,87.1 L228.3,86.1Z" fill="#25ab90"/>
<path d="M242.0,82.0 L241.9,87.4 L240.4,86.3 L237.6,90.2 L235.6,88.8 L238.4,84.9 L236.9,83.8Z" fill="#28a888"/>
<path d="M250.5,83.0 L251.7,88.3 L249.9,87.6 L248.1,92.0 L245.8,91.1 L247.7,86.7 L245.9,85.9Z" fill="#25ab90"/>
<path d="M256.3,80.9 L259.4,85.3 L257.5,85.4 L257.5,90.1 L255.1,90.2 L255.1,85.4 L253.2,85.4Z" fill="#2a9fb0"/>
<path d="M261.5,83.9 L266.1,86.7 L264.4,87.5 L266.3,91.9 L264.1,92.8 L262.2,88.5 L260.4,89.2Z" fill="#2a9fb0"/>
<path d="M269.6,83.5 L274.8,85.0 L273.3,86.2 L276.3,89.9 L274.5,91.4 L271.5,87.7 L270.0,88.9Z" fill="#20a8a8"/>
<path d="M275.8,81.8 L280.7,84.0 L279.1,85.0 L281.6,89.1 L279.5,90.3 L277.1,86.2 L275.4,87.2Z" fill="#20a8a8"/>
<path d="M288.7,83.1 L290.9,88.0 L289.0,87.7 L288.2,92.4 L285.8,91.9 L286.7,87.2 L284.8,86.9Z" fill="#1c9fa8"/>
<path d="M294.1,81.2 L298.4,84.5 L296.6,85.1 L297.9,89.7 L295.6,90.3 L294.2,85.8 L292.4,86.3Z" fill="#2a9fb0"/>
<path d="M302.5,83.9 L306.5,87.4 L304.7,87.9 L305.9,92.5 L303.5,93.1 L302.4,88.5 L300.5,88.9Z" fill="#28a888"/>
<path d="M314.4,84.7 L314.0,90.1 L312.5,88.9 L309.5,92.6 L307.6,91.1 L310.6,87.4 L309.2,86.2Z" fill="#1fa89a"/>
<path d="M322.4,84.2 L321.3,89.5 L320.0,88.1 L316.6,91.4 L314.9,89.7 L318.4,86.4 L317.1,85.0Z" fill="#28a888"/>
<path d="M330.2,82.4 L330.8,87.8 L329.1,86.9 L326.8,91.0 L324.7,89.9 L327.0,85.7 L325.4,84.8Z" fill="#1fa89a"/>
<path d="M337.6,81.3 L339.6,86.4 L337.7,85.9 L336.5,90.6 L334.2,90.0 L335.4,85.3 L333.5,84.9Z" fill="#1fa89a"/>
<path d="M344.0,83.1 L348.0,86.7 L346.2,87.1 L347.2,91.8 L344.9,92.3 L343.8,87.6 L342.0,88.1Z" fill="#22a6a0"/>
<path d="M350.7,83.0 L355.0,86.3 L353.2,86.9 L354.6,91.5 L352.3,92.2 L350.9,87.6 L349.1,88.2Z" fill="#1fa89a"/>
<path d="M360.8,81.1 L364.9,84.5 L363.1,85.0 L364.3,89.6 L362.0,90.3 L360.8,85.6 L358.9,86.1Z" fill="#28a888"/>
<path d="M368.4,82.0 L373.2,84.6 L371.5,85.4 L373.6,89.7 L371.5,90.8 L369.3,86.5 L367.6,87.3Z" fill="#25ab90"/>
<path d="M376.8,83.0 L381.4,85.8 L379.6,86.6 L381.5,91.0 L379.3,91.9 L377.4,87.5 L375.7,88.3Z" fill="#1fa89a"/>
<path d="M388.8,82.0 L390.9,87.0 L389.0,86.6 L388.0,91.2 L385.7,90.7 L386.7,86.1 L384.8,85.7Z" fill="#1c9fa8"/>
<path d="M396.7,82.4 L396.5,87.8 L395.0,86.7 L392.2,90.5 L390.2,89.1 L393.1,85.3 L391.5,84.1Z" fill="#20a8a8"/>
<path d="M404.3,84.2 L405.3,89.5 L403.6,88.7 L401.6,93.1 L399.4,92.1 L401.4,87.7 L399.7,86.9Z" fill="#25ab90"/>
<path d="M228.2,91.1 L229.0,96.4 L227.3,95.5 L225.1,99.8 L223.0,98.7 L225.1,94.4 L223.4,93.6Z" fill="#20a8a8"/>
<path d="M237.2,91.4 L236.1,96.7 L234.8,95.3 L231.3,98.6 L229.7,96.8 L233.2,93.6 L231.9,92.2Z" fill="#20a8a8"/>
<path d="M242.6,91.5 L245.9,95.7 L244.0,95.8 L244.2,100.6 L241.8,100.7 L241.6,95.9 L239.7,96.0Z" fill="#25ab90"/>
<path d="M248.5,89.9 L253.1,92.7 L251.3,93.5 L253.2,97.9 L251.0,98.8 L249.1,94.4 L247.4,95.1Z" fill="#1c9fa8"/>
<path d="M256.6,91.0 L261.7,92.8 L260.2,93.9 L263.0,97.8 L261.1,99.2 L258.3,95.3 L256.7,96.4Z" fill="#28a888"/>
<path d="M265.0,94.0 L270.4,94.5 L269.2,95.9 L272.8,99.0 L271.2,100.8 L267.6,97.7 L266.4,99.2Z" fill="#22a6a0"/>
<path d="M273.1,92.5 L277.9,95.0 L276.2,95.8 L278.4,100.1 L276.2,101.2 L274.0,96.9 L272.4,97.8Z" fill="#2a9fb0"/>
<path d="M282.5,89.6 L286.0,93.7 L284.1,93.9 L284.7,98.6 L282.3,98.9 L281.8,94.2 L279.9,94.4Z" fill="#25ab90"/>
<path d="M291.9,90.8 L291.9,96.1 L290.3,95.1 L287.6,99.0 L285.6,97.6 L288.4,93.7 L286.8,92.6Z" fill="#1c9fa8"/>
<path d="M299.9,91.4 L300.2,96.8 L298.6,95.8 L296.1,99.9 L294.1,98.7 L296.5,94.6 L294.9,93.6Z" fill="#1c9fa8"/>
<path d="M309.6,91.9 L309.7,97.3 L308.2,96.3 L305.5,100.3 L303.5,98.9 L306.1,94.9 L304.6,93.9Z" fill="#22a6a0"/>
<path d="M317.5,91.5 L316.8,96.9 L315.4,95.6 L312.2,99.1 L310.4,97.5 L313.6,94.0 L312.2,92.7Z" fill="#1fa89a"/>
<path d="M323.0,90.9 L325.4,95.8 L323.5,95.5 L322.7,100.2 L320.4,99.8 L321.1,95.1 L319.3,94.8Z" fill="#20a8a8"/>
<path d="M329.5,90.5 L332.7,94.9 L330.8,94.9 L330.8,99.7 L328.4,99.7 L328.4,94.9 L326.5,95.0Z" fill="#1fa89a"/>
<path d="M337.3,91.8 L341.7,94.9 L339.9,95.5 L341.6,100.0 L339.4,100.8 L337.7,96.4 L335.9,97.0Z" fill="#28a888"/>
<path d="M344.2,90.6 L349.3,92.2 L347.8,93.4 L350.7,97.2 L348.8,98.6 L345.9,94.8 L344.4,96.0Z" fill="#28a888"/>
<path d="M353.6,92.5 L358.3,95.1 L356.6,95.9 L358.7,100.2 L356.6,101.3 L354.5,97.0 L352.7,97.8Z" fill="#2a9fb0"/>
<path d="M359.1,90.0 L363.7,92.8 L362.0,93.6 L363.9,97.9 L361.7,98.9 L359.8,94.5 L358.1,95.3Z" fill="#1fa89a"/>
<path d="M371.0,92.1 L374.6,96.1 L372.7,96.3 L373.3,101.1 L370.9,101.4 L370.3,96.6 L368.4,96.8Z" fill="#20a8a8"/>
<path d="M380.9,91.9 L380.5,97.2 L379.0,96.0 L376.0,99.7 L374.1,98.2 L377.2,94.5 L375.7,93.3Z" fill="#2a9fb0"/>
<path d="M388.0,89.9 L388.9,95.2 L387.2,94.4 L385.2,98.8 L383.0,97.8 L385.0,93.4 L383.3,92.6Z" fill="#2a9fb0"/>
<path d="M396.0,94.4 L393.3,99.1 L392.5,97.3 L388.2,99.4 L387.2,97.2 L391.5,95.2 L390.7,93.5Z" fill="#20a8a8"/>
<path d="M402.8,89.9 L403.7,95.2 L402.0,94.4 L400.0,98.7 L397.8,97.7 L399.8,93.4 L398.1,92.5Z" fill="#1c9fa8"/>
<path d="M224.5,99.0 L226.7,103.9 L224.8,103.6 L223.9,108.3 L221.6,107.8 L222.5,103.1 L220.6,102.8Z" fill="#25ab90"/>
<path d="M229.9,99.1 L233.4,103.2 L231.5,103.4 L232.1,108.1 L229.7,108.4 L229.2,103.7 L227.3,103.9Z" fill="#1c9fa8"/>
<path d="M236.8,101.5 L241.9,103.1 L240.4,104.3 L243.2,108.1 L241.3,109.5 L238.4,105.7 L236.9,106.8Z" fill="#25ab90"/>
<path d="M245.5,98.8 L249.9,101.9 L248.1,102.5 L249.8,107.0 L247.6,107.9 L245.9,103.4 L244.1,104.0Z" fill="#22a6a0"/>
<path d="M252.9,101.1 L257.4,104.0 L255.6,104.7 L257.4,109.2 L255.1,110.1 L253.4,105.6 L251.6,106.3Z" fill="#1c9fa8"/>
<path d="M258.3,100.7 L263.7,101.6 L262.4,102.9 L265.8,106.3 L264.1,108.0 L260.7,104.6 L259.4,106.0Z" fill="#22a6a0"/>
<path d="M270.2,100.2 L274.4,103.6 L272.6,104.1 L274.0,108.7 L271.7,109.4 L270.3,104.8 L268.5,105.4Z" fill="#28a888"/>
<path d="M281.9,98.6 L282.6,104.0 L280.9,103.1 L278.7,107.4 L276.6,106.3 L278.8,102.0 L277.1,101.1Z" fill="#1fa89a"/>
<path d="M288.3,99.1 L290.0,104.2 L288.2,103.7 L286.9,108.3 L284.6,107.7 L285.9,103.1 L284.1,102.5Z" fill="#20a8a8"/>
<path d="M296.5,98.6 L297.8,103.9 L296.0,103.2 L294.2,107.6 L292.0,106.7 L293.8,102.3 L292.0,101.6Z" fill="#25ab90"/>
<path d="M306.2,100.8 L307.0,106.1 L305.3,105.2 L303.2,109.6 L301.1,108.5 L303.2,104.2 L301.5,103.4Z" fill="#20a8a8"/>
<path d="M309.8,99.5 L313.0,103.8 L311.1,103.9 L311.3,108.7 L308.9,108.7 L308.7,104.0 L306.8,104.0Z" fill="#20a8a8"/>
<path d="M319.0,99.3 L321.8,104.0 L319.9,103.8 L319.5,108.6 L317.1,108.4 L317.5,103.6 L315.6,103.5Z" fill="#22a6a0"/>
<path d="M325.7,100.3 L330.8,102.2 L329.2,103.3 L331.9,107.2 L330.0,108.6 L327.2,104.6 L325.7,105.7Z" fill="#1fa89a"/>
<path d="M333.0,100.3 L338.1,102.1 L336.5,103.2 L339.3,107.1 L337.4,108.5 L334.6,104.6 L333.1,105.7Z" fill="#2a9fb0"/>
<path d="M342.1,100.6 L346.1,104.1 L344.3,104.6 L345.4,109.2 L343.1,109.8 L342.0,105.2 L340.1,105.6Z" fill="#20a8a8"/>
<path d="M354.7,98.6 L356.2,103.7 L354.4,103.1 L352.8,107.6 L350.5,106.8 L352.1,102.3 L350.3,101.7Z" fill="#25ab90"/>
<path d="M363.3,98.5 L363.9,103.9 L362.2,102.9 L359.9,107.1 L357.8,106.0 L360.1,101.8 L358.5,100.9Z" fill="#2a9fb0"/>
<path d="M372.6,100.7 L371.6,106.0 L370.3,104.6 L366.9,108.0 L365.2,106.2 L368.6,102.9 L367.3,101.5Z" fill="#20a8a8"/>
<path d="M377.5,100.7 L379.1,105.9 L377.3,105.3 L375.8,109.8 L373.5,109.1 L375.0,104.5 L373.2,103.9Z" fill="#28a888"/>
<path d="M388.0,101.2 L389.2,106.5 L387.4,105.7 L385.6,110.1 L383.3,109.2 L385.2,104.8 L383.4,104.1Z" fill="#1c9fa8"/>
<path d="M393.8,98.9 L397.1,103.1 L395.2,103.2 L395.4,108.0 L393.0,108.1 L392.8,103.3 L390.9,103.4Z" fill="#20a8a8"/>
<path d="M400.3,99.8 L404.6,103.0 L402.8,103.6 L404.4,108.1 L402.1,108.9 L400.6,104.4 L398.8,105.0Z" fill="#28a888"/>
<path d="M226.6,107.3 L230.9,110.5 L229.1,111.1 L230.6,115.7 L228.3,116.4 L226.8,111.8 L225.0,112.4Z" fill="#28a888"/>
<path d="M231.6,109.4 L236.5,111.6 L234.8,112.6 L237.3,116.7 L235.2,117.9 L232.8,113.8 L231.1,114.8Z" fill="#22a6a0"/>
<path d="M240.5,110.2 L245.7,111.6 L244.3,112.8 L247.3,116.4 L245.5,118.0 L242.4,114.3 L241.0,115.6Z" fill="#2a9fb0"/>
<path d="M248.4,109.9 L253.3,112.1 L251.7,113.1 L254.2,117.2 L252.1,118.4 L249.7,114.3 L248.0,115.3Z" fill="#1fa89a"/>
<path d="M257.0,108.6 L261.7,111.1 L260.1,112.0 L262.2,116.2 L260.1,117.3 L257.9,113.1 L256.2,113.9Z" fill="#28a888"/>
<path d="M269.3,108.2 L271.5,113.1 L269.6,112.7 L268.6,117.4 L266.3,116.9 L267.3,112.3 L265.4,111.9Z" fill="#1c9fa8"/>
<path d="M278.6,109.3 L279.9,114.6 L278.1,113.9 L276.4,118.3 L274.1,117.5 L275.9,113.0 L274.1,112.3Z" fill="#2a9fb0"/>
<path d="M287.1,109.9 L285.5,115.1 L284.3,113.6 L280.5,116.5 L279.1,114.6 L282.9,111.7 L281.7,110.2Z" fill="#22a6a0"/>
<path d="M289.8,106.4 L293.4,110.5 L291.5,110.7 L292.0,115.5 L289.6,115.7 L289.1,111.0 L287.2,111.2Z" fill="#25ab90"/>
<path d="M299.7,109.0 L301.3,114.2 L299.4,113.6 L298.0,118.1 L295.7,117.4 L297.2,112.9 L295.4,112.3Z" fill="#2a9fb0"/>
<path d="M303.4,107.1 L307.8,110.3 L306.0,110.9 L307.5,115.5 L305.3,116.2 L303.7,111.7 L301.9,112.3Z" fill="#2a9fb0"/>
<path d="M312.7,107.2 L316.6,111.0 L314.7,111.3 L315.6,116.0 L313.3,116.5 L312.4,111.8 L310.5,112.1Z" fill="#25ab90"/>
<path d="M317.8,110.2 L323.1,111.1 L321.8,112.5 L325.2,115.8 L323.5,117.5 L320.1,114.2 L318.7,115.5Z" fill="#25ab90"/>
<path d="M326.9,107.4 L331.1,110.8 L329.2,111.3 L330.5,115.9 L328.2,116.5 L326.9,111.9 L325.1,112.5Z" fill="#20a8a8"/>
<path d="M336.6,107.0 L339.7,111.5 L337.8,111.4 L337.7,116.2 L335.3,116.2 L335.4,111.4 L333.5,111.3Z" fill="#22a6a0"/>
<path d="M344.9,107.9 L347.4,112.7 L345.5,112.5 L344.9,117.2 L342.5,116.9 L343.1,112.2 L341.3,111.9Z" fill="#25ab90"/>
<path d="M355.8,109.5 L354.6,114.7 L353.3,113.3 L349.7,116.5 L348.2,114.7 L351.7,111.5 L350.5,110.1Z" fill="#1c9fa8"/>
<path d="M362.6,108.8 L363.4,114.1 L361.7,113.3 L359.5,117.6 L357.4,116.5 L359.5,112.2 L357.8,111.3Z" fill="#28a888"/>
<path d="M369.0,107.0 L372.0,111.5 L370.1,111.5 L369.9,116.3 L367.5,116.2 L367.7,111.4 L365.8,111.3Z" fill="#20a8a8"/>
<path d="M378.7,108.2 L380.9,113.2 L379.1,112.8 L378.1,117.5 L375.8,117.0 L376.7,112.3 L374.8,112.0Z" fill="#22a6a0"/>
<path d="M385.7,108.8 L389.0,113.1 L387.1,113.2 L387.2,118.0 L384.8,118.1 L384.7,113.3 L382.8,113.3Z" fill="#22a6a0"/>
<path d="M389.5,110.4 L394.7,111.9 L393.2,113.1 L396.1,116.9 L394.3,118.3 L391.3,114.6 L389.8,115.8Z" fill="#1fa89a"/>
<path d="M399.2,108.6 L402.9,112.6 L401.0,112.8 L401.6,117.6 L399.3,117.9 L398.6,113.2 L396.7,113.4Z" fill="#1c9fa8"/>
<path d="M233.8,79.6 L229.2,82.9 L229.2,81.0 L224.2,81.0 L224.2,78.2 L229.2,78.2 L229.2,76.3Z" fill="#58b838"/>
<path d="M243.3,78.8 L238.7,82.1 L238.7,80.2 L233.8,80.2 L233.8,77.4 L238.7,77.4 L238.7,75.5Z" fill="#40b040"/>
<path d="M252.8,79.6 L248.2,82.9 L248.2,81.0 L243.3,81.0 L243.3,78.2 L248.2,78.2 L248.2,76.3Z" fill="#40b040"/>
<path d="M261.6,79.4 L257.0,82.7 L257.0,80.8 L252.1,80.8 L252.1,78.0 L257.0,78.0 L257.0,76.1Z" fill="#2aa870"/>
<path d="M272.2,78.7 L267.6,82.0 L267.6,80.1 L262.7,80.1 L262.7,77.3 L267.6,77.3 L267.6,75.4Z" fill="#32b048"/>
<path d="M281.9,79.2 L277.3,82.5 L277.3,80.6 L272.4,80.6 L272.4,77.8 L277.3,77.8 L277.3,75.9Z" fill="#32b048"/>
<path d="M292.0,79.6 L287.4,82.9 L287.4,81.0 L282.5,81.0 L282.5,78.2 L287.4,78.2 L287.4,76.3Z" fill="#48c030"/>
<path d="M301.7,78.6 L297.1,81.9 L297.1,80.0 L292.2,80.0 L292.2,77.2 L297.1,77.2 L297.1,75.3Z" fill="#3cb83a"/>
<path d="M302.0,79.7 L306.5,76.4 L306.5,78.3 L311.5,78.3 L311.5,81.1 L306.5,81.1 L306.5,83.0Z" fill="#2aa870"/>
<path d="M311.6,78.8 L316.2,75.5 L316.2,77.4 L321.1,77.4 L321.1,80.2 L316.2,80.2 L316.2,82.1Z" fill="#48c030"/>
<path d="M320.7,79.8 L325.2,76.5 L325.2,78.4 L330.2,78.4 L330.2,81.2 L325.2,81.2 L325.2,83.1Z" fill="#48c030"/>
<path d="M331.3,79.3 L335.9,76.0 L335.9,77.9 L340.8,77.9 L340.8,80.7 L335.9,80.7 L335.9,82.6Z" fill="#3cb83a"/>
<path d="M340.2,79.2 L344.8,75.9 L344.8,77.8 L349.7,77.8 L349.7,80.6 L344.8,80.6 L344.8,82.5Z" fill="#40b040"/>
<path d="M350.5,79.1 L355.1,75.8 L355.1,77.7 L360.0,77.7 L360.0,80.5 L355.1,80.5 L355.1,82.4Z" fill="#32b048"/>
<path d="M360.0,79.1 L364.6,75.8 L364.6,77.7 L369.5,77.7 L369.5,80.5 L364.6,80.5 L364.6,82.4Z" fill="#32b048"/>
<path d="M370.0,79.4 L374.5,76.1 L374.5,78.0 L379.5,78.0 L379.5,80.8 L374.5,80.8 L374.5,82.7Z" fill="#20a8a8"/>
<path d="M378.7,78.8 L383.2,75.5 L383.2,77.4 L388.2,77.4 L388.2,80.2 L383.2,80.2 L383.2,82.1Z" fill="#22a0b8"/>
<path d="M388.2,79.1 L392.8,75.8 L392.8,77.7 L397.7,77.7 L397.7,80.5 L392.8,80.5 L392.8,82.4Z" fill="#28a890"/>
<path d="M224.2,119.1 L228.8,115.8 L228.8,117.7 L233.8,117.7 L233.8,120.5 L228.8,120.5 L228.8,122.4Z" fill="#48c030"/>
<path d="M234.6,120.1 L239.2,116.8 L239.2,118.7 L244.1,118.7 L244.1,121.5 L239.2,121.5 L239.2,123.4Z" fill="#32b048"/>
<path d="M245.0,120.1 L249.5,116.8 L249.5,118.7 L254.5,118.7 L254.5,121.5 L249.5,121.5 L249.5,123.4Z" fill="#40b040"/>
<path d="M255.6,119.7 L260.1,116.4 L260.1,118.3 L265.1,118.3 L265.1,121.1 L260.1,121.1 L260.1,123.0Z" fill="#58b838"/>
<path d="M264.6,120.2 L269.1,116.9 L269.1,118.8 L274.1,118.8 L274.1,121.6 L269.1,121.6 L269.1,123.5Z" fill="#2aa870"/>
<path d="M274.9,119.3 L279.5,116.0 L279.5,117.9 L284.4,117.9 L284.4,120.7 L279.5,120.7 L279.5,122.6Z" fill="#32b048"/>
<path d="M283.8,119.9 L288.4,116.6 L288.4,118.5 L293.3,118.5 L293.3,121.3 L288.4,121.3 L288.4,123.2Z" fill="#40b040"/>
<path d="M294.2,119.2 L298.8,115.9 L298.8,117.8 L303.7,117.8 L303.7,120.6 L298.8,120.6 L298.8,122.5Z" fill="#58b838"/>
<path d="M313.0,119.8 L308.5,123.1 L308.5,121.2 L303.5,121.2 L303.5,118.4 L308.5,118.4 L308.5,116.5Z" fill="#2aa870"/>
<path d="M323.3,119.5 L318.7,122.8 L318.7,120.9 L313.8,120.9 L313.8,118.1 L318.7,118.1 L318.7,116.2Z" fill="#48c030"/>
<path d="M333.5,120.0 L328.9,123.3 L328.9,121.4 L324.0,121.4 L324.0,118.6 L328.9,118.6 L328.9,116.7Z" fill="#3cb83a"/>
<path d="M342.8,119.0 L338.2,122.3 L338.2,120.4 L333.3,120.4 L333.3,117.6 L338.2,117.6 L338.2,115.7Z" fill="#3cb83a"/>
<path d="M352.1,120.1 L347.6,123.4 L347.6,121.5 L342.6,121.5 L342.6,118.7 L347.6,118.7 L347.6,116.8Z" fill="#40b040"/>
<path d="M360.9,120.1 L356.3,123.4 L356.3,121.5 L351.4,121.5 L351.4,118.7 L356.3,118.7 L356.3,116.8Z" fill="#32b048"/>
<path d="M370.9,119.3 L366.4,122.6 L366.4,120.7 L361.4,120.7 L361.4,117.9 L366.4,117.9 L366.4,116.0Z" fill="#28a890"/>
<path d="M380.4,119.6 L375.9,122.9 L375.9,121.0 L370.9,121.0 L370.9,118.2 L375.9,118.2 L375.9,116.3Z" fill="#22a0b8"/>
<path d="M389.9,119.8 L385.3,123.1 L385.3,121.2 L380.4,121.2 L380.4,118.4 L385.3,118.4 L385.3,116.5Z" fill="#2ab0a0"/>
<path d="M400.0,120.2 L395.5,123.5 L395.5,121.6 L390.5,121.6 L390.5,118.8 L395.5,118.8 L395.5,116.9Z" fill="#2ab0a0"/>
</g>
<defs><linearGradient id="jet" x1="0" x2="1" y1="0" y2="0">
<stop offset="0" stop-color="#0010e0"/><stop offset="0.12" stop-color="#0060ff"/><stop offset="0.25" stop-color="#00d8f8"/>
<stop offset="0.38" stop-color="#00e0a8"/><stop offset="0.5" stop-color="#18d018"/><stop offset="0.63" stop-color="#9ee000"/>
<stop offset="0.74" stop-color="#f8f400"/><stop offset="0.86" stop-color="#f8a000"/><stop offset="1" stop-color="#f01800"/>
</linearGradient>
<filter id="blurA" x="-5%" y="-5%" width="110%" height="110%"><feGaussianBlur stdDeviation="0.6"/></filter></defs>
<rect x="250.2" y="162" width="109.8" height="8.9" fill="url(#jet)"/>
<text x="242.8" y="170.4" font-family="Liberation Sans" font-weight="bold" font-size="11.5" text-anchor="middle">0</text>
<text x="365" y="170.4" font-family="Liberation Sans" font-weight="bold" font-size="11.5">1E5</text>
<text x="387" y="184.3" font-family="Liberation Sans" font-weight="bold" font-size="11.5" text-anchor="end">A/m (log)</text>
<rect x="217.75" y="4.75" width="187" height="186" fill="none" stroke="#000" stroke-width="1.5"/>
<path d="M452.0,2.6 H643.3 V362.4 H452.0 Z M452.0,122.7 H643.3 M452.0,242.6 H643.3" stroke="#000" stroke-width="1.5" fill="none"/>
<path d="M496.00,2.6 v6.2 M496.00,122.7 v-6.2 M496.00,242.6 v-6.2 M496.00,362.4 v-6.2 M545.00,2.6 v6.2 M545.00,122.7 v-6.2 M545.00,242.6 v-6.2 M545.00,362.4 v-6.2 M594.00,2.6 v6.2 M594.00,122.7 v-6.2 M594.00,242.6 v-6.2 M594.00,362.4 v-6.2 M471.50,2.6 v3.6 M471.50,122.7 v-3.6 M471.50,242.6 v-3.6 M471.50,362.4 v-3.6 M520.50,2.6 v3.6 M520.50,122.7 v-3.6 M520.50,242.6 v-3.6 M520.50,362.4 v-3.6 M569.50,2.6 v3.6 M569.50,122.7 v-3.6 M569.50,242.6 v-3.6 M569.50,362.4 v-3.6 M618.50,2.6 v3.6 M618.50,122.7 v-3.6 M618.50,242.6 v-3.6 M618.50,362.4 v-3.6 M452.0,91.10 h6.2 M452.0,55.90 h6.2 M452.0,20.70 h6.2 M452.0,108.70 h3.6 M452.0,73.50 h3.6 M452.0,38.30 h3.6 M643.3,7.60 h-6.2 M643.3,57.80 h-6.2 M643.3,108.00 h-6.2 M643.3,32.70 h-3.6 M643.3,82.90 h-3.6 M452.0,212.00 h6.2 M452.0,171.70 h6.2 M452.0,131.40 h6.2 M452.0,232.15 h3.6 M452.0,191.85 h3.6 M452.0,151.55 h3.6 M643.3,132.40 h-6.2 M643.3,182.40 h-6.2 M643.3,232.40 h-6.2 M643.3,157.40 h-3.6 M643.3,207.40 h-3.6 M452.0,327.34 h6.2 M452.0,289.98 h6.2 M452.0,252.62 h6.2 M452.0,346.02 h3.6 M452.0,308.66 h3.6 M452.0,271.30 h3.6 M643.3,254.00 h-6.2 M643.3,308.20 h-6.2 M643.3,362.40 h-6.2 M643.3,281.10 h-3.6 M643.3,335.30 h-3.6" stroke="#000" stroke-width="1.3" fill="none"/>
<line x1="520.4" y1="2.6" x2="520.4" y2="362.4" stroke="#222" stroke-width="0.9" stroke-dasharray="4 1.8 1 1.8"/>
<path d="M452.00,37.32 L453.50,37.47 L455.00,37.88 L456.50,38.53 L458.00,39.40 L459.50,40.46 L461.00,41.67 L462.50,43.01 L464.00,44.46 L465.50,45.98 L467.00,47.54 L468.50,49.13 L470.00,50.73 L471.50,52.34 L473.00,53.96 L474.50,55.56 L476.00,57.16 L477.50,58.74 L479.00,60.30 L480.50,61.84 L482.00,63.34 L483.50,64.80 L485.00,66.21 L486.50,67.58 L488.00,68.91 L489.50,70.19 L491.00,71.44 L492.50,72.64 L494.00,73.80 L495.50,74.93 L497.00,76.03 L498.50,77.09 L500.00,78.12 L501.50,79.12 L503.00,80.09 L504.50,81.03 L506.00,81.95 L507.50,82.85 L509.00,83.72 L510.50,84.57 L512.00,85.40 L513.50,86.22 L515.00,87.02 L516.50,87.80 L518.00,88.58 L519.50,89.34 L521.00,90.09 L522.50,90.83 L524.00,91.56 L525.50,92.29 L527.00,93.00 L528.50,93.71 L530.00,94.40 L531.50,95.09 L533.00,95.76 L534.50,96.43 L536.00,97.08 L537.50,97.73 L539.00,98.36 L540.50,98.99 L542.00,99.60 L543.50,100.21 L545.00,100.80 L546.50,101.39 L548.00,101.96 L549.50,102.52 L551.00,103.07 L552.50,103.61 L554.00,104.14 L555.50,104.66 L557.00,105.17 L558.50,105.67 L560.00,106.15 L561.50,106.62 L563.00,107.09 L564.50,107.54 L566.00,107.98 L567.50,108.40 L569.00,108.82 L570.50,109.22 L572.00,109.61 L573.50,109.99 L575.00,110.36 L576.50,110.72 L578.00,111.06 L579.50,111.39 L581.00,111.71 L582.50,112.01 L584.00,112.31 L585.50,112.59 L587.00,112.87 L588.50,113.13 L590.00,113.38 L591.50,113.62 L593.00,113.86 L594.50,114.09 L596.00,114.31 L597.50,114.52 L599.00,114.72 L600.50,114.92 L602.00,115.12 L603.50,115.30 L605.00,115.49 L606.50,115.67 L608.00,115.84 L609.50,116.02 L611.00,116.19 L612.50,116.35 L614.00,116.52 L615.50,116.68 L617.00,116.85 L618.50,117.01 L620.00,117.18 L621.50,117.34 L623.00,117.51 L624.50,117.68 L626.00,117.85 L627.50,118.02 L629.00,118.20 L630.50,118.38 L632.00,118.56 L633.50,118.75 L635.00,118.95 L636.50,119.15 L638.00,119.36 L639.50,119.57 L641.00,119.79 L642.50,120.02 L643.00,120.10" stroke="#d80c14" stroke-width="3.0" fill="none" stroke-linejoin="round" />
<path d="M452.00,231.31 L453.50,226.09 L455.00,220.96 L456.50,215.94 L458.00,211.03 L459.50,206.26 L461.00,201.65 L462.50,197.19 L464.00,192.92 L465.50,188.85 L467.00,184.99 L468.50,181.35 L470.00,177.94 L471.50,174.74 L473.00,171.75 L474.50,168.96 L476.00,166.37 L477.50,163.97 L479.00,161.75 L480.50,159.70 L482.00,157.83 L483.50,156.10 L485.00,154.51 L486.50,153.04 L488.00,151.69 L489.50,150.43 L491.00,149.26 L492.50,148.17 L494.00,147.13 L495.50,146.15 L497.00,145.23 L498.50,144.39 L500.00,143.62 L501.50,142.93 L503.00,142.32 L504.50,141.80 L506.00,141.35 L507.50,140.98 L509.00,140.67 L510.50,140.43 L512.00,140.24 L513.50,140.10 L515.00,140.01 L516.50,139.95 L518.00,139.93 L519.50,139.94 L521.00,139.97 L522.50,140.02 L524.00,140.09 L525.50,140.18 L527.00,140.29 L528.50,140.41 L530.00,140.55 L531.50,140.71 L533.00,140.89 L534.50,141.09 L536.00,141.30 L537.50,141.52 L539.00,141.76 L540.50,142.02 L542.00,142.29 L543.50,142.57 L545.00,142.87 L546.50,143.18 L548.00,143.50 L549.50,143.84 L551.00,144.18 L552.50,144.54 L554.00,144.91 L555.50,145.29 L557.00,145.69 L558.50,146.09 L560.00,146.50 L561.50,146.92 L563.00,147.34 L564.50,147.78 L566.00,148.22 L567.50,148.68 L569.00,149.13 L570.50,149.60 L572.00,150.07 L573.50,150.55 L575.00,151.03 L576.50,151.52 L578.00,152.01 L579.50,152.51 L581.00,153.01 L582.50,153.51 L584.00,154.02 L585.50,154.54 L587.00,155.06 L588.50,155.58 L590.00,156.11 L591.50,156.64 L593.00,157.18 L594.50,157.72 L596.00,158.26 L597.50,158.81 L599.00,159.37 L600.50,159.93 L602.00,160.49 L603.50,161.06 L605.00,161.63 L606.50,162.20 L608.00,162.78 L609.50,163.37 L611.00,163.95 L612.50,164.55 L614.00,165.14 L615.50,165.74 L617.00,166.35 L618.50,166.95 L620.00,167.57 L621.50,168.18 L623.00,168.80 L624.50,169.43 L626.00,170.06 L627.50,170.69 L629.00,171.32 L630.50,171.96 L632.00,172.61 L633.50,173.26 L635.00,173.91 L636.50,174.56 L638.00,175.22 L639.50,175.88 L641.00,176.55 L642.50,177.22 L643.00,177.45" stroke="#d80c14" stroke-width="2.25" fill="none" stroke-linejoin="round" />
<path d="M451.70,255.04 L453.20,255.48 L454.70,256.08 L456.20,256.84 L457.70,257.73 L459.20,258.76 L460.70,259.91 L462.20,261.17 L463.70,262.54 L465.20,264.01 L466.70,265.56 L468.20,267.20 L469.70,268.90 L471.20,270.67 L472.70,272.48 L474.20,274.34 L475.70,276.23 L477.20,278.15 L478.70,280.08 L480.20,282.01 L481.70,283.95 L483.20,285.87 L484.70,287.77 L486.20,289.64 L487.70,291.49 L489.20,293.30 L490.70,295.07 L492.20,296.81 L493.70,298.50 L495.20,300.15 L496.70,301.75 L498.20,303.30 L499.70,304.79 L501.20,306.22 L502.70,307.60 L504.20,308.91 L505.70,310.15 L507.20,311.35 L508.70,312.48 L510.20,313.57 L511.70,314.62 L513.20,315.62 L514.70,316.59 L516.20,317.52 L517.70,318.43 L519.20,319.31 L520.70,320.17 L522.20,321.01 L523.70,321.84 L525.20,322.65 L526.70,323.44 L528.20,324.22 L529.70,324.98 L531.20,325.72 L532.70,326.45 L534.20,327.17 L535.70,327.86 L537.20,328.54 L538.70,329.21 L540.20,329.87 L541.70,330.50 L543.20,331.13 L544.70,331.74 L546.20,332.34 L547.70,332.92 L549.20,333.49 L550.70,334.05 L552.20,334.60 L553.70,335.13 L555.20,335.65 L556.70,336.16 L558.20,336.66 L559.70,337.15 L561.20,337.62 L562.70,338.09 L564.20,338.54 L565.70,338.99 L567.20,339.42 L568.70,339.85 L570.20,340.27 L571.70,340.67 L573.20,341.07 L574.70,341.46 L576.20,341.84 L577.70,342.21 L579.20,342.58 L580.70,342.94 L582.20,343.28 L583.70,343.63 L585.20,343.96 L586.70,344.29 L588.20,344.61 L589.70,344.93 L591.20,345.24 L592.70,345.55 L594.20,345.85 L595.70,346.14 L597.20,346.43 L598.70,346.72 L600.20,347.00 L601.70,347.27 L603.20,347.55 L604.70,347.82 L606.20,348.08 L607.70,348.35 L609.20,348.61 L610.70,348.86 L612.20,349.12 L613.70,349.37 L615.20,349.63 L616.70,349.88 L618.20,350.12 L619.70,350.37 L621.20,350.62 L622.70,350.87 L624.20,351.11 L625.70,351.36 L627.20,351.61 L628.70,351.85 L630.20,352.10 L631.70,352.35 L633.20,352.60 L634.70,352.85 L636.20,353.11 L637.70,353.36 L639.20,353.62 L640.70,353.88 L642.20,354.14 L643.30,354.34" stroke="#d80c14" stroke-width="2.5" fill="none" stroke-linejoin="round" />
<path d="M452.00,14.70 L453.50,16.28 L455.00,17.82 L456.50,19.33 L458.00,20.81 L459.50,22.26 L461.00,23.68 L462.50,25.06 L464.00,26.42 L465.50,27.74 L467.00,29.04 L468.50,30.31 L470.00,31.55 L471.50,32.76 L473.00,33.95 L474.50,35.11 L476.00,36.24 L477.50,37.35 L479.00,38.43 L480.50,39.49 L482.00,40.52 L483.50,41.53 L485.00,42.51 L486.50,43.47 L488.00,44.41 L489.50,45.33 L491.00,46.23 L492.50,47.10 L494.00,47.95 L495.50,48.79 L497.00,49.60 L498.50,50.40 L500.00,51.17 L501.50,51.93 L503.00,52.67 L504.50,53.39 L506.00,54.09 L507.50,54.78 L509.00,55.45 L510.50,56.11 L512.00,56.75 L513.50,57.38 L515.00,57.99 L516.50,58.59 L518.00,59.18 L519.50,59.75 L521.00,60.31 L522.50,60.86 L524.00,61.40 L525.50,61.92 L527.00,62.44 L528.50,62.94 L530.00,63.44 L531.50,63.93 L533.00,64.40 L534.50,64.88 L536.00,65.34 L537.50,65.79 L539.00,66.24 L540.50,66.68 L542.00,67.12 L543.50,67.55 L545.00,67.97 L546.50,68.39 L548.00,68.80 L549.50,69.21 L551.00,69.61 L552.50,70.01 L554.00,70.40 L555.50,70.79 L557.00,71.17 L558.50,71.54 L560.00,71.92 L561.50,72.28 L563.00,72.65 L564.50,73.00 L566.00,73.36 L567.50,73.71 L569.00,74.06 L570.50,74.40 L572.00,74.74 L573.50,75.08 L575.00,75.41 L576.50,75.74 L578.00,76.07 L579.50,76.39 L581.00,76.71 L582.50,77.03 L584.00,77.35 L585.50,77.66 L587.00,77.97 L588.50,78.28 L590.00,78.59 L591.50,78.90 L593.00,79.20 L594.50,79.50 L596.00,79.80 L597.50,80.10 L599.00,80.40 L600.50,80.70 L602.00,81.00 L603.50,81.29 L605.00,81.59 L606.50,81.88 L608.00,82.18 L609.50,82.47 L611.00,82.77 L612.50,83.06 L614.00,83.35 L615.50,83.65 L617.00,83.94 L618.50,84.24 L620.00,84.54 L621.50,84.83 L623.00,85.13 L624.50,85.43 L626.00,85.73 L627.50,86.03 L629.00,86.34 L630.50,86.64 L632.00,86.95 L633.50,87.26 L635.00,87.57 L636.50,87.88 L638.00,88.19 L638.70,88.34" stroke="#0c06c8" stroke-width="2.5" fill="none" stroke-linejoin="round" stroke-dasharray="5.4 3.3" />
<path d="M451.70,141.81 L453.20,143.21 L454.70,144.58 L456.20,145.93 L457.70,147.26 L459.20,148.57 L460.70,149.85 L462.20,151.12 L463.70,152.36 L465.20,153.58 L466.70,154.78 L468.20,155.96 L469.70,157.12 L471.20,158.25 L472.70,159.37 L474.20,160.47 L475.70,161.54 L477.20,162.60 L478.70,163.63 L480.20,164.65 L481.70,165.64 L483.20,166.62 L484.70,167.58 L486.20,168.51 L487.70,169.43 L489.20,170.33 L490.70,171.21 L492.20,172.07 L493.70,172.91 L495.20,173.73 L496.70,174.54 L498.20,175.33 L499.70,176.10 L501.20,176.85 L502.70,177.58 L504.20,178.30 L505.70,179.00 L507.20,179.69 L508.70,180.36 L510.20,181.01 L511.70,181.65 L513.20,182.28 L514.70,182.89 L516.20,183.49 L517.70,184.08 L519.20,184.65 L520.70,185.22 L522.20,185.77 L523.70,186.31 L525.20,186.84 L526.70,187.36 L528.20,187.87 L529.70,188.37 L531.20,188.86 L532.70,189.34 L534.20,189.82 L535.70,190.29 L537.20,190.75 L538.70,191.20 L540.20,191.65 L541.70,192.09 L543.20,192.53 L544.70,192.96 L546.20,193.38 L547.70,193.80 L549.20,194.22 L550.70,194.64 L552.20,195.05 L553.70,195.46 L555.20,195.86 L556.70,196.26 L558.20,196.66 L559.70,197.06 L561.20,197.45 L562.70,197.84 L564.20,198.22 L565.70,198.61 L567.20,198.99 L568.70,199.37 L570.20,199.74 L571.70,200.11 L573.20,200.48 L574.70,200.85 L576.20,201.22 L577.70,201.58 L579.20,201.94 L580.70,202.30 L582.20,202.65 L583.70,203.00 L585.20,203.35 L586.70,203.70 L588.20,204.05 L589.70,204.39 L591.20,204.74 L592.70,205.08 L594.20,205.41 L595.70,205.75 L597.20,206.09 L598.70,206.42 L600.20,206.75 L601.70,207.08 L603.20,207.41 L604.70,207.74 L606.20,208.06 L607.70,208.38 L609.20,208.71 L610.70,209.03 L612.20,209.35 L613.70,209.67 L615.20,209.98 L616.70,210.30 L618.20,210.62 L619.70,210.93 L621.20,211.24 L622.70,211.56 L624.20,211.87 L625.70,212.18 L627.20,212.49 L628.70,212.80 L630.20,213.11 L631.70,213.41 L633.20,213.72 L634.70,214.03 L636.20,214.34 L637.70,214.64 L639.20,214.95 L639.90,215.09" stroke="#0c06c8" stroke-width="2.5" fill="none" stroke-linejoin="round" stroke-dasharray="5.4 3.3" />
<path d="M451.70,264.44 L453.20,265.57 L454.70,266.71 L456.20,267.86 L457.70,269.02 L459.20,270.20 L460.70,271.38 L462.20,272.58 L463.70,273.78 L465.20,275.00 L466.70,276.22 L468.20,277.45 L469.70,278.69 L471.20,279.94 L472.70,281.20 L474.20,282.46 L475.70,283.73 L477.20,285.01 L478.70,286.28 L480.20,287.54 L481.70,288.80 L483.20,290.04 L484.70,291.25 L486.20,292.45 L487.70,293.62 L489.20,294.75 L490.70,295.85 L492.20,296.90 L493.70,297.91 L495.20,298.88 L496.70,299.80 L498.20,300.69 L499.70,301.55 L501.20,302.37 L502.70,303.16 L504.20,303.92 L505.70,304.66 L507.20,305.37 L508.70,306.06 L510.20,306.74 L511.70,307.39 L513.20,308.04 L514.70,308.67 L516.20,309.29 L517.70,309.90 L519.20,310.50 L520.70,311.09 L522.20,311.68 L523.70,312.25 L525.20,312.82 L526.70,313.38 L528.20,313.94 L529.70,314.48 L531.20,315.02 L532.70,315.55 L534.20,316.08 L535.70,316.60 L537.20,317.12 L538.70,317.63 L540.20,318.13 L541.70,318.63 L543.20,319.12 L544.70,319.61 L546.20,320.10 L547.70,320.57 L549.20,321.05 L550.70,321.52 L552.20,321.98 L553.70,322.44 L555.20,322.89 L556.70,323.34 L558.20,323.79 L559.70,324.23 L561.20,324.67 L562.70,325.10 L564.20,325.53 L565.70,325.96 L567.20,326.38 L568.70,326.79 L570.20,327.21 L571.70,327.62 L573.20,328.02 L574.70,328.42 L576.20,328.82 L577.70,329.22 L579.20,329.61 L580.70,330.00 L582.20,330.39 L583.70,330.77 L585.20,331.15 L586.70,331.53 L588.20,331.90 L589.70,332.27 L591.20,332.64 L592.70,333.01 L594.20,333.37 L595.70,333.73 L597.20,334.09 L598.70,334.45 L600.20,334.80 L601.70,335.16 L603.20,335.51 L604.70,335.86 L606.20,336.20 L607.70,336.55 L609.20,336.89 L610.70,337.23 L612.20,337.58 L613.70,337.91 L615.20,338.25 L616.70,338.59 L618.20,338.93 L619.70,339.26 L621.20,339.59 L622.70,339.93 L624.20,340.26 L625.70,340.59 L627.20,340.92 L628.70,341.25 L630.20,341.58 L631.70,341.91 L633.20,342.24 L634.70,342.57 L636.20,342.89 L637.70,343.22 L639.20,343.55 L640.70,343.88 L642.20,344.21 L642.50,344.27" stroke="#0c06c8" stroke-width="2.5" fill="none" stroke-linejoin="round" stroke-dasharray="5.4 3.3" />
<ellipse cx="498.4" cy="77.6" rx="2.7" ry="7.0" stroke="#000" stroke-width="1.15" fill="none"/><path d="M498.4,84.19999999999999 H485.9" stroke="#000" stroke-width="1.15" fill="none"/><path d="M482.9,84.19999999999999 l6.2,-2.9 l-1.8,2.9 l1.8,2.9 Z" fill="#000"/>
<ellipse cx="573.9" cy="75.2" rx="2.7" ry="7.0" stroke="#000" stroke-width="1.15" fill="none"/><path d="M573.9,68.60000000000001 H584.6999999999999" stroke="#000" stroke-width="1.15" fill="none"/><path d="M587.6999999999999,68.60000000000001 l-6.2,-2.9 l1.8,2.9 l-1.8,2.9 Z" fill="#000"/>
<ellipse cx="497.6" cy="145.6" rx="2.7" ry="7.0" stroke="#000" stroke-width="1.15" fill="none"/><path d="M497.6,139.0 H485.1" stroke="#000" stroke-width="1.15" fill="none"/><path d="M482.1,139.0 l6.2,-2.9 l-1.8,2.9 l1.8,2.9 Z" fill="#000"/>
<ellipse cx="567.7" cy="200.2" rx="2.7" ry="7.0" stroke="#000" stroke-width="1.15" fill="none"/><path d="M567.7,193.6 H579.9000000000001" stroke="#000" stroke-width="1.15" fill="none"/><path d="M582.9000000000001,193.6 l-6.2,-2.9 l1.8,2.9 l-1.8,2.9 Z" fill="#000"/>
<ellipse cx="551.6" cy="335.1" rx="2.7" ry="7.0" stroke="#000" stroke-width="1.15" fill="none"/><path d="M551.6,341.70000000000005 H539.1" stroke="#000" stroke-width="1.15" fill="none"/><path d="M536.1,341.70000000000005 l6.2,-2.9 l-1.8,2.9 l1.8,2.9 Z" fill="#000"/>
<ellipse cx="588.3" cy="331.3" rx="2.7" ry="7.0" stroke="#000" stroke-width="1.15" fill="none"/><path d="M588.3,324.7 H598.5" stroke="#000" stroke-width="1.15" fill="none"/><path d="M601.5,324.7 l-6.2,-2.9 l1.8,2.9 l-1.8,2.9 Z" fill="#000"/>
<text transform="translate(446,95.19999999999999) scale(1,1.1)" font-family="Liberation Sans" font-weight="bold" font-size="11.5" text-anchor="end" >1</text>
<text transform="translate(446,59.99999999999999) scale(1,1.1)" font-family="Liberation Sans" font-weight="bold" font-size="11.5" text-anchor="end" >2</text>
<text transform="translate(446,24.79999999999999) scale(1,1.1)" font-family="Liberation Sans" font-weight="bold" font-size="11.5" text-anchor="end" >3</text>
<text transform="translate(649.5,11.7) scale(1,1.1)" font-family="Liberation Sans" font-weight="bold" font-size="11.5" text-anchor="start" >0.0</text>
<text transform="translate(649.5,61.900000000000006) scale(1,1.1)" font-family="Liberation Sans" font-weight="bold" font-size="11.5" text-anchor="start" >-0.5</text>
<text transform="translate(649.5,112.1) scale(1,1.1)" font-family="Liberation Sans" font-weight="bold" font-size="11.5" text-anchor="start" >-1.0</text>
<text transform="translate(446,216.1) scale(1,1.1)" font-family="Liberation Sans" font-weight="bold" font-size="11.5" text-anchor="end" >2</text>
<text transform="translate(446,175.8) scale(1,1.1)" font-family="Liberation Sans" font-weight="bold" font-size="11.5" text-anchor="end" >4</text>
<text transform="translate(446,135.50000000000003) scale(1,1.1)" font-family="Liberation Sans" font-weight="bold" font-size="11.5" text-anchor="end" >6</text>
<text transform="translate(649.5,136.5) scale(1,1.1)" font-family="Liberation Sans" font-weight="bold" font-size="11.5" text-anchor="start" >0.5</text>
<text transform="translate(649.5,186.5) scale(1,1.1)" font-family="Liberation Sans" font-weight="bold" font-size="11.5" text-anchor="start" >0.0</text>
<text transform="translate(649.5,236.5) scale(1,1.1)" font-family="Liberation Sans" font-weight="bold" font-size="11.5" text-anchor="start" >-0.5</text>
<text transform="translate(446,331.44) scale(1,1.1)" font-family="Liberation Sans" font-weight="bold" font-size="11.5" text-anchor="end" >2</text>
<text transform="translate(446,294.08000000000004) scale(1,1.1)" font-family="Liberation Sans" font-weight="bold" font-size="11.5" text-anchor="end" >4</text>
<text transform="translate(446,256.72) scale(1,1.1)" font-family="Liberation Sans" font-weight="bold" font-size="11.5" text-anchor="end" >6</text>
<text transform="translate(649.5,258.1) scale(1,1.1)" font-family="Liberation Sans" font-weight="bold" font-size="11.5" text-anchor="start" >0.0</text>
<text transform="translate(649.5,312.3) scale(1,1.1)" font-family="Liberation Sans" font-weight="bold" font-size="11.5" text-anchor="start" >-0.5</text>
<text transform="translate(649.5,366.5) scale(1,1.1)" font-family="Liberation Sans" font-weight="bold" font-size="11.5" text-anchor="start" >-1.0</text>
<text transform="translate(496.0,379.4) scale(1,1.1)" font-family="Liberation Sans" font-weight="bold" font-size="11.5" text-anchor="middle" >0.5</text>
<text transform="translate(545.0,379.4) scale(1,1.1)" font-family="Liberation Sans" font-weight="bold" font-size="11.5" text-anchor="middle" >1.0</text>
<text transform="translate(594.0,379.4) scale(1,1.1)" font-family="Liberation Sans" font-weight="bold" font-size="11.5" text-anchor="middle" >1.5</text>
<text transform="translate(643.0,379.4) scale(1,1.1)" font-family="Liberation Sans" font-weight="bold" font-size="11.5" text-anchor="middle" >2.0</text>
<text transform="translate(542.5,392.8) scale(1,1.1)" font-family="Liberation Sans" font-weight="bold" font-size="13" text-anchor="middle" >Frequency (THz)</text>
<text transform="translate(626.5,23.3) scale(1,1)" font-family="Liberation Sans" font-weight="bold" font-size="18" text-anchor="middle" >b</text>
<text transform="translate(626.5,141) scale(1,1)" font-family="Liberation Sans" font-weight="bold" font-size="18" text-anchor="middle" >c</text>
<text transform="translate(626,264) scale(1,1)" font-family="Liberation Sans" font-weight="bold" font-size="18" text-anchor="middle" >d</text>
<text transform="translate(505,27.6) scale(1,1.1)" font-family="Liberation Sans" font-weight="bold" font-size="12"><tspan font-style="italic">f</tspan> = 0.75 THz</text>
<text transform="translate(427.2,65.6) rotate(-90)" font-family="Liberation Sans" font-weight="bold" font-size="13" text-anchor="middle" textLength="85.2" lengthAdjust="spacingAndGlyphs"><tspan font-style="italic">P</tspan><tspan dy="3" font-size="7.5">y</tspan><tspan dy="-3"> (10</tspan><tspan dy="-5" font-size="8">-18</tspan><tspan dy="5"> C m)</tspan></text>
<text transform="translate(425.4,184.8) rotate(-90)" font-family="Liberation Sans" font-weight="bold" font-size="13" text-anchor="middle" textLength="93.6" lengthAdjust="spacingAndGlyphs"><tspan font-style="italic">M</tspan><tspan dy="3.2" font-size="7">x</tspan><tspan dy="-3.2"> (10</tspan><tspan dy="-5" font-size="8">-13</tspan><tspan dy="5"> A m</tspan><tspan dy="-5" font-size="8">2</tspan><tspan dy="5">)</tspan></text>
<text transform="translate(424.6,309.5) rotate(-90)" font-family="Liberation Sans" font-weight="bold" font-size="13" text-anchor="middle" textLength="94.6" lengthAdjust="spacingAndGlyphs"><tspan font-style="italic">Q</tspan><tspan dy="3.2" font-size="7">xz</tspan><tspan dy="-3.2"> (10</tspan><tspan dy="-5" font-size="8">-25</tspan><tspan dy="5"> C m</tspan><tspan dy="-5" font-size="8">2</tspan><tspan dy="5">)</tspan></text>
<text transform="translate(681.3,182.6) rotate(-90)" font-family="Liberation Sans" font-weight="bold" font-size="13" text-anchor="middle" textLength="63.5" lengthAdjust="spacingAndGlyphs">Phase (π)</text>
<rect x="62.0" y="211.7" width="340.0" height="152.3" stroke="#000" stroke-width="1.5" fill="none"/>
<path d="M62.0,360.30 h6 M62.0,333.30 h6 M62.0,306.30 h6 M62.0,279.30 h6 M62.0,252.30 h6 M62.0,225.30 h6 M62.0,346.80 h3.5 M62.0,319.80 h3.5 M62.0,292.80 h3.5 M62.0,265.80 h3.5 M62.0,238.80 h3.5 M140.00,364.0 v-6 M227.30,364.0 v-6 M314.60,364.0 v-6 M96.35,364.0 v-3.5 M183.65,364.0 v-3.5 M270.95,364.0 v-3.5 M358.25,364.0 v-3.5" stroke="#000" stroke-width="1.3" fill="none"/>
<text transform="translate(56.0,364.3) scale(1,1.1)" font-family="Liberation Sans" font-weight="bold" font-size="11.5" text-anchor="end" >0.0</text>
<text transform="translate(56.0,337.3) scale(1,1.1)" font-family="Liberation Sans" font-weight="bold" font-size="11.5" text-anchor="end" >0.2</text>
<text transform="translate(56.0,310.3) scale(1,1.1)" font-family="Liberation Sans" font-weight="bold" font-size="11.5" text-anchor="end" >0.4</text>
<text transform="translate(56.0,283.3) scale(1,1.1)" font-family="Liberation Sans" font-weight="bold" font-size="11.5" text-anchor="end" >0.6</text>
<text transform="translate(56.0,256.3) scale(1,1.1)" font-family="Liberation Sans" font-weight="bold" font-size="11.5" text-anchor="end" >0.8</text>
<text transform="translate(56.0,229.3) scale(1,1.1)" font-family="Liberation Sans" font-weight="bold" font-size="11.5" text-anchor="end" >1.0</text>
<text transform="translate(140.0,379.0) scale(1,1.1)" font-family="Liberation Sans" font-weight="bold" font-size="11.5" text-anchor="middle" >0.5</text>
<text transform="translate(227.3,379.0) scale(1,1.1)" font-family="Liberation Sans" font-weight="bold" font-size="11.5" text-anchor="middle" >1.0</text>
<text transform="translate(314.6,379.0) scale(1,1.1)" font-family="Liberation Sans" font-weight="bold" font-size="11.5" text-anchor="middle" >1.5</text>
<text transform="translate(401.9,379.0) scale(1,1.1)" font-family="Liberation Sans" font-weight="bold" font-size="11.5" text-anchor="middle" >2.0</text>
<text transform="translate(232.2,393) scale(1,1.1)" font-family="Liberation Sans" font-weight="bold" font-size="13" text-anchor="middle" >Frequency (THz)</text>
<text transform="translate(35.6,289.3) rotate(-90)" font-family="Liberation Sans" font-weight="bold" font-size="13" text-anchor="middle" textLength="155.4" lengthAdjust="spacingAndGlyphs">Transmission coefficient</text>
<text transform="translate(7,229) scale(1,1)" font-family="Liberation Sans" font-weight="bold" font-size="18" text-anchor="middle" >e</text>
<path d="M62.00,227.49 L63.50,227.80 L65.00,228.25 L66.50,228.81 L68.00,229.49 L69.50,230.29 L71.00,231.19 L72.50,232.20 L74.00,233.30 L75.50,234.49 L77.00,235.76 L78.50,237.11 L80.00,238.54 L81.50,240.04 L83.00,241.59 L84.50,243.21 L86.00,244.87 L87.50,246.58 L89.00,248.34 L90.50,250.12 L92.00,251.94 L93.50,253.78 L95.00,255.64 L96.50,257.52 L98.00,259.43 L99.50,261.35 L101.00,263.29 L102.50,265.25 L104.00,267.22 L105.50,269.20 L107.00,271.19 L108.50,273.20 L110.00,275.21 L111.50,277.23 L113.00,279.25 L114.50,281.28 L116.00,283.31 L117.50,285.34 L119.00,287.37 L120.50,289.39 L122.00,291.42 L123.50,293.44 L125.00,295.45 L126.50,297.45 L128.00,299.45 L129.50,301.43 L131.00,303.39 L132.50,305.34 L134.00,307.27 L135.50,309.18 L137.00,311.06 L138.50,312.92 L140.00,314.74 L141.50,316.53 L143.00,318.29 L144.50,320.02 L146.00,321.72 L147.50,323.39 L149.00,325.05 L150.50,326.69 L152.00,328.32 L153.50,329.95 L155.00,331.57 L156.50,333.20 L158.00,334.83 L159.50,336.47 L161.00,338.13 L162.50,339.80 L164.00,341.44 L165.50,343.05 L167.00,344.60 L168.50,346.07 L170.00,347.43 L171.50,348.67 L173.00,349.76 L174.50,350.68 L176.00,351.43 L177.50,352.01 L179.00,352.41 L180.50,352.64 L182.00,352.69 L183.50,352.57 L185.00,352.28 L186.50,351.81 L188.00,351.16 L189.50,350.34 L191.00,349.37 L192.50,348.26 L194.00,347.06 L195.50,345.78 L197.00,344.47 L198.50,343.14 L200.00,341.82 L201.50,340.54 L203.00,339.31 L204.50,338.10 L206.00,336.94 L207.50,335.80 L209.00,334.70 L210.50,333.62 L212.00,332.57 L213.50,331.53 L215.00,330.52 L216.50,329.51 L218.00,328.53 L219.50,327.55 L221.00,326.57 L222.50,325.61 L224.00,324.64 L225.50,323.68 L227.00,322.71 L228.50,321.75 L230.00,320.79 L231.50,319.84 L233.00,318.88 L234.50,317.93 L236.00,316.98 L237.50,316.04 L239.00,315.10 L240.50,314.16 L242.00,313.23 L243.50,312.30 L245.00,311.37 L246.50,310.45 L248.00,309.54 L249.50,308.63 L251.00,307.72 L252.50,306.82 L254.00,305.93 L255.50,305.04 L257.00,304.16 L258.50,303.29 L260.00,302.42 L261.50,301.56 L263.00,300.71 L264.50,299.86 L266.00,299.03 L267.50,298.20 L269.00,297.38 L270.50,296.56 L272.00,295.76 L273.50,294.96 L275.00,294.18 L276.50,293.40 L278.00,292.63 L279.50,291.87 L281.00,291.11 L282.50,290.37 L284.00,289.63 L285.50,288.90 L287.00,288.18 L288.50,287.46 L290.00,286.75 L291.50,286.05 L293.00,285.36 L294.50,284.67 L296.00,283.99 L297.50,283.32 L299.00,282.65 L300.50,281.99 L302.00,281.33 L303.50,280.68 L305.00,280.04 L306.50,279.40 L308.00,278.77 L309.50,278.14 L311.00,277.52 L312.50,276.90 L314.00,276.29 L315.50,275.69 L317.00,275.08 L318.50,274.49 L320.00,273.89 L321.50,273.30 L323.00,272.72 L324.50,272.14 L326.00,271.56 L327.50,270.99 L329.00,270.42 L330.50,269.85 L332.00,269.29 L333.50,268.73 L335.00,268.17 L336.50,267.62 L338.00,267.07 L339.50,266.52 L341.00,265.97 L342.50,265.43 L344.00,264.89 L345.50,264.36 L347.00,263.83 L348.50,263.30 L350.00,262.78 L351.50,262.26 L353.00,261.75 L354.50,261.24 L356.00,260.74 L357.50,260.24 L359.00,259.75 L360.50,259.27 L362.00,258.79 L363.50,258.32 L365.00,257.85 L366.50,257.39 L368.00,256.94 L369.50,256.49 L371.00,256.05 L372.50,255.62 L374.00,255.20 L375.50,254.79 L377.00,254.38 L378.50,253.98 L380.00,253.59 L381.50,253.21 L383.00,252.84 L384.50,252.48 L386.00,252.13 L387.50,251.79 L389.00,251.45 L390.50,251.13 L392.00,250.82 L393.50,250.52 L395.00,250.23 L396.50,249.95 L398.00,249.68 L399.50,249.42 L401.00,249.18 L401.50,249.10" stroke="#000" stroke-width="3.0" fill="none" stroke-dasharray="3 2.6"/>
<path d="M62.30,228.60 L63.80,228.99 L65.30,229.52 L66.80,230.18 L68.30,230.98 L69.80,231.89 L71.30,232.92 L72.80,234.06 L74.30,235.30 L75.80,236.64 L77.30,238.07 L78.80,239.59 L80.30,241.18 L81.80,242.85 L83.30,244.58 L84.80,246.38 L86.30,248.23 L87.80,250.12 L89.30,252.06 L90.80,254.04 L92.30,256.05 L93.80,258.07 L95.30,260.12 L96.80,262.18 L98.30,264.26 L99.80,266.35 L101.30,268.45 L102.80,270.55 L104.30,272.66 L105.80,274.78 L107.30,276.90 L108.80,279.02 L110.30,281.13 L111.80,283.25 L113.30,285.35 L114.80,287.45 L116.30,289.55 L117.80,291.63 L119.30,293.69 L120.80,295.75 L122.30,297.78 L123.80,299.80 L125.30,301.80 L126.80,303.77 L128.30,305.73 L129.80,307.65 L131.30,309.55 L132.80,311.42 L134.30,313.27 L135.80,315.08 L137.30,316.87 L138.80,318.63 L140.30,320.35 L141.80,322.04 L143.30,323.69 L144.80,325.32 L146.30,326.90 L147.80,328.45 L149.30,329.96 L150.80,331.44 L152.30,332.87 L153.80,334.26 L155.30,335.61 L156.80,336.92 L158.30,338.19 L159.80,339.40 L161.30,340.55 L162.80,341.63 L164.30,342.62 L165.80,343.53 L167.30,344.34 L168.80,345.03 L170.30,345.61 L171.80,346.07 L173.30,346.38 L174.80,346.55 L176.30,346.56 L177.80,346.42 L179.30,346.12 L180.80,345.70 L182.30,345.15 L183.80,344.50 L185.30,343.76 L186.80,342.94 L188.30,342.05 L189.80,341.12 L191.30,340.14 L192.80,339.14 L194.30,338.12 L195.80,337.07 L197.30,336.00 L198.80,334.92 L200.30,333.82 L201.80,332.71 L203.30,331.60 L204.80,330.48 L206.30,329.36 L207.80,328.24 L209.30,327.12 L210.80,326.02 L212.30,324.92 L213.80,323.83 L215.30,322.77 L216.80,321.72 L218.30,320.69 L219.80,319.69 L221.30,318.71 L222.80,317.77 L224.30,316.84 L225.80,315.94 L227.30,315.06 L228.80,314.20 L230.30,313.35 L231.80,312.52 L233.30,311.70 L234.80,310.90 L236.30,310.10 L237.80,309.31 L239.30,308.53 L240.80,307.75 L242.30,306.97 L243.80,306.19 L245.30,305.41 L246.80,304.63 L248.30,303.84 L249.80,303.06 L251.30,302.27 L252.80,301.48 L254.30,300.69 L255.80,299.90 L257.30,299.11 L258.80,298.32 L260.30,297.54 L261.80,296.75 L263.30,295.96 L264.80,295.18 L266.30,294.40 L267.80,293.62 L269.30,292.84 L270.80,292.07 L272.30,291.30 L273.80,290.54 L275.30,289.78 L276.80,289.03 L278.30,288.28 L279.80,287.54 L281.30,286.80 L282.80,286.07 L284.30,285.35 L285.80,284.63 L287.30,283.92 L288.80,283.23 L290.30,282.53 L291.80,281.85 L293.30,281.18 L294.80,280.51 L296.30,279.86 L297.80,279.21 L299.30,278.57 L300.80,277.93 L302.30,277.31 L303.80,276.69 L305.30,276.08 L306.80,275.47 L308.30,274.87 L309.80,274.28 L311.30,273.69 L312.80,273.11 L314.30,272.54 L315.80,271.97 L317.30,271.40 L318.80,270.84 L320.30,270.29 L321.80,269.74 L323.30,269.19 L324.80,268.65 L326.30,268.11 L327.80,267.58 L329.30,267.05 L330.80,266.52 L332.30,265.99 L333.80,265.47 L335.30,264.95 L336.80,264.44 L338.30,263.92 L339.80,263.41 L341.30,262.90 L342.80,262.39 L344.30,261.88 L345.80,261.37 L347.30,260.87 L348.80,260.36 L350.30,259.86 L351.80,259.35 L353.30,258.85 L354.80,258.35 L356.30,257.86 L357.80,257.36 L359.30,256.87 L360.80,256.39 L362.30,255.91 L363.80,255.43 L365.30,254.96 L366.80,254.50 L368.30,254.05 L369.80,253.60 L371.30,253.16 L372.80,252.73 L374.30,252.30 L375.80,251.89 L377.30,251.49 L378.80,251.10 L380.30,250.72 L381.80,250.35 L383.30,249.99 L384.80,249.65 L386.30,249.32 L387.80,249.00 L389.30,248.70 L390.80,248.41 L392.30,248.14 L393.80,247.89 L395.30,247.65 L396.80,247.43 L398.30,247.22 L399.80,247.04 L401.30,246.87 L401.50,246.85" stroke="#d42028" stroke-width="1.7" fill="none" transform="translate(0,-0.2)"/>
<path d="M62.30,228.60 L63.80,228.99 L65.30,229.52 L66.80,230.18 L68.30,230.98 L69.80,231.89 L71.30,232.92 L72.80,234.06 L74.30,235.30 L75.80,236.64 L77.30,238.07 L78.80,239.59 L80.30,241.18 L81.80,242.85 L83.30,244.58 L84.80,246.38 L86.30,248.23 L87.80,250.12 L89.30,252.06 L90.80,254.04 L92.30,256.05 L93.80,258.07 L95.30,260.12 L96.80,262.18 L98.30,264.26 L99.80,266.35 L101.30,268.45 L102.80,270.55 L104.30,272.66 L105.80,274.78 L107.30,276.90 L108.80,279.02 L110.30,281.13 L111.80,283.25 L113.30,285.35 L114.80,287.45 L116.30,289.55 L117.80,291.63 L119.30,293.69 L120.80,295.75 L122.30,297.78 L123.80,299.80 L125.30,301.80 L126.80,303.77 L128.30,305.73 L129.80,307.65 L131.30,309.55 L132.80,311.42 L134.30,313.27 L135.80,315.08 L137.30,316.87 L138.80,318.63 L140.30,320.35 L141.80,322.04 L143.30,323.69 L144.80,325.32 L146.30,326.90 L147.80,328.45 L149.30,329.96 L150.80,331.44 L152.30,332.87 L153.80,334.26 L155.30,335.61 L156.80,336.92 L158.30,338.19 L159.80,339.40 L161.30,340.55 L162.80,341.63 L164.30,342.62 L165.80,343.53 L167.30,344.34 L168.80,345.03 L170.30,345.61 L171.80,346.07 L173.30,346.38 L174.80,346.55 L176.30,346.56 L177.80,346.42 L179.30,346.12 L180.80,345.70 L182.30,345.15 L183.80,344.50 L185.30,343.76 L186.80,342.94 L188.30,342.05 L189.80,341.12 L191.30,340.14 L192.80,339.14 L194.30,338.12 L195.80,337.07 L197.30,336.00 L198.80,334.92 L200.30,333.82 L201.80,332.71 L203.30,331.60 L204.80,330.48 L206.30,329.36 L207.80,328.24 L209.30,327.12 L210.80,326.02 L212.30,324.92 L213.80,323.83 L215.30,322.77 L216.80,321.72 L218.30,320.69 L219.80,319.69 L221.30,318.71 L222.80,317.77 L224.30,316.84 L225.80,315.94 L227.30,315.06 L228.80,314.20 L230.30,313.35 L231.80,312.52 L233.30,311.70 L234.80,310.90 L236.30,310.10 L237.80,309.31 L239.30,308.53 L240.80,307.75 L242.30,306.97 L243.80,306.19 L245.30,305.41 L246.80,304.63 L248.30,303.84 L249.80,303.06 L251.30,302.27 L252.80,301.48 L254.30,300.69 L255.80,299.90 L257.30,299.11 L258.80,298.32 L260.30,297.54 L261.80,296.75 L263.30,295.96 L264.80,295.18 L266.30,294.40 L267.80,293.62 L269.30,292.84 L270.80,292.07 L272.30,291.30 L273.80,290.54 L275.30,289.78 L276.80,289.03 L278.30,288.28 L279.80,287.54 L281.30,286.80 L282.80,286.07 L284.30,285.35 L285.80,284.63 L287.30,283.92 L288.80,283.23 L290.30,282.53 L291.80,281.85 L293.30,281.18 L294.80,280.51 L296.30,279.86 L297.80,279.21 L299.30,278.57 L300.80,277.93 L302.30,277.31 L303.80,276.69 L305.30,276.08 L306.80,275.47 L308.30,274.87 L309.80,274.28 L311.30,273.69 L312.80,273.11 L314.30,272.54 L315.80,271.97 L317.30,271.40 L318.80,270.84 L320.30,270.29 L321.80,269.74 L323.30,269.19 L324.80,268.65 L326.30,268.11 L327.80,267.58 L329.30,267.05 L330.80,266.52 L332.30,265.99 L333.80,265.47 L335.30,264.95 L336.80,264.44 L338.30,263.92 L339.80,263.41 L341.30,262.90 L342.80,262.39 L344.30,261.88 L345.80,261.37 L347.30,260.87 L348.80,260.36 L350.30,259.86 L351.80,259.35 L353.30,258.85 L354.80,258.35 L356.30,257.86 L357.80,257.36 L359.30,256.87 L360.80,256.39 L362.30,255.91 L363.80,255.43 L365.30,254.96 L366.80,254.50 L368.30,254.05 L369.80,253.60 L371.30,253.16 L372.80,252.73 L374.30,252.30 L375.80,251.89 L377.30,251.49 L378.80,251.10 L380.30,250.72 L381.80,250.35 L383.30,249.99 L384.80,249.65 L386.30,249.32 L387.80,249.00 L389.30,248.70 L390.80,248.41 L392.30,248.14 L393.80,247.89 L395.30,247.65 L396.80,247.43 L398.30,247.22 L399.80,247.04 L401.30,246.87 L401.50,246.85" stroke="#1414d8" stroke-width="1.6" fill="none" stroke-dasharray="7 1.5 1.6 1.5" transform="translate(-0.3,1.0)"/>
<path d="M129.2,244.6 H155" stroke="#000" stroke-width="3" stroke-dasharray="3 2.6"/>
<path d="M130,258 H155.6" stroke="#d42028" stroke-width="1.9"/>
<path d="M130,271.6 H155.6" stroke="#1414d8" stroke-width="1.9" stroke-dasharray="6.6 2.4 1.8 2.4"/>
<text transform="translate(158.3,248.6) scale(1,1.1)" font-family="Liberation Sans" font-weight="bold" font-size="10.8" text-anchor="start" >Full wave</text>
<text transform="translate(158.3,261.9) scale(1,1.1)" font-family="Liberation Sans" font-weight="bold" font-size="10.8" text-anchor="start" >P contribution</text>
<text transform="translate(158.3,275.3) scale(1,1.1)" font-family="Liberation Sans" font-weight="bold" font-size="10.8" text-anchor="start" >P-M-Q contribution</text>
<text transform="translate(8.5,21.2) scale(1,1)" font-family="Liberation Sans" font-weight="bold" font-size="18" text-anchor="middle" >a</text>
</svg>
</body></html>
